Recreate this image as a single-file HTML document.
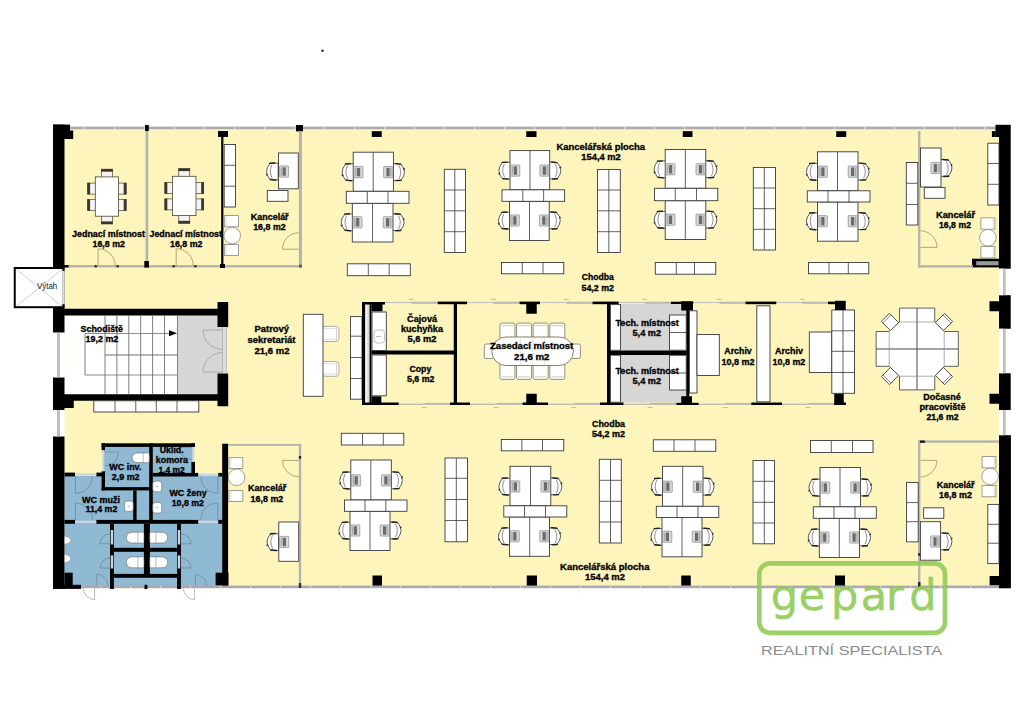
<!DOCTYPE html>
<html lang="cs"><head><meta charset="utf-8"><title>Půdorys kanceláří</title>
<style>
html,body{margin:0;padding:0;background:#fff;}
body{width:1024px;height:724px;overflow:hidden;}
svg{display:block;font-family:"Liberation Sans",sans-serif;}
</style></head><body>
<svg width="1024" height="724" viewBox="0 0 1024 724">
<rect x="64.50" y="130.00" width="934.90" height="456.00" fill="#fdf5bc" />
<rect x="64.50" y="315.00" width="113.00" height="80.00" fill="#fff" />
<rect x="177.50" y="315.00" width="45.00" height="80.00" fill="#d6d6d6" />
<rect x="222.50" y="327.00" width="4.00" height="46.00" fill="#e4e4e4" />
<rect x="64.50" y="476.00" width="158.00" height="110.00" fill="#90bad3" />
<rect x="104.00" y="446.00" width="89.00" height="31.00" fill="#90bad3" />
<rect x="620.50" y="304.00" width="66.00" height="98.50" fill="#d6d6d6" />
<rect x="70.00" y="126.60" width="926.00" height="2.90" fill="#a9a9ae" />
<rect x="70.00" y="129.50" width="926.00" height="0.80" fill="#f4f1e0" />
<rect x="84.00" y="127.20" width="1.20" height="1.70" fill="#e6e6ea" />
<rect x="114.00" y="127.20" width="1.20" height="1.70" fill="#e6e6ea" />
<rect x="144.00" y="127.20" width="1.20" height="1.70" fill="#e6e6ea" />
<rect x="174.00" y="127.20" width="1.20" height="1.70" fill="#e6e6ea" />
<rect x="204.00" y="127.20" width="1.20" height="1.70" fill="#e6e6ea" />
<rect x="234.00" y="127.20" width="1.20" height="1.70" fill="#e6e6ea" />
<rect x="264.00" y="127.20" width="1.20" height="1.70" fill="#e6e6ea" />
<rect x="294.00" y="127.20" width="1.20" height="1.70" fill="#e6e6ea" />
<rect x="324.00" y="127.20" width="1.20" height="1.70" fill="#e6e6ea" />
<rect x="354.00" y="127.20" width="1.20" height="1.70" fill="#e6e6ea" />
<rect x="384.00" y="127.20" width="1.20" height="1.70" fill="#e6e6ea" />
<rect x="414.00" y="127.20" width="1.20" height="1.70" fill="#e6e6ea" />
<rect x="444.00" y="127.20" width="1.20" height="1.70" fill="#e6e6ea" />
<rect x="474.00" y="127.20" width="1.20" height="1.70" fill="#e6e6ea" />
<rect x="504.00" y="127.20" width="1.20" height="1.70" fill="#e6e6ea" />
<rect x="534.00" y="127.20" width="1.20" height="1.70" fill="#e6e6ea" />
<rect x="564.00" y="127.20" width="1.20" height="1.70" fill="#e6e6ea" />
<rect x="594.00" y="127.20" width="1.20" height="1.70" fill="#e6e6ea" />
<rect x="624.00" y="127.20" width="1.20" height="1.70" fill="#e6e6ea" />
<rect x="654.00" y="127.20" width="1.20" height="1.70" fill="#e6e6ea" />
<rect x="684.00" y="127.20" width="1.20" height="1.70" fill="#e6e6ea" />
<rect x="714.00" y="127.20" width="1.20" height="1.70" fill="#e6e6ea" />
<rect x="744.00" y="127.20" width="1.20" height="1.70" fill="#e6e6ea" />
<rect x="774.00" y="127.20" width="1.20" height="1.70" fill="#e6e6ea" />
<rect x="804.00" y="127.20" width="1.20" height="1.70" fill="#e6e6ea" />
<rect x="834.00" y="127.20" width="1.20" height="1.70" fill="#e6e6ea" />
<rect x="864.00" y="127.20" width="1.20" height="1.70" fill="#e6e6ea" />
<rect x="894.00" y="127.20" width="1.20" height="1.70" fill="#e6e6ea" />
<rect x="924.00" y="127.20" width="1.20" height="1.70" fill="#e6e6ea" />
<rect x="954.00" y="127.20" width="1.20" height="1.70" fill="#e6e6ea" />
<rect x="984.00" y="127.20" width="1.20" height="1.70" fill="#e6e6ea" />
<rect x="81.00" y="585.60" width="919.00" height="2.60" fill="#a9a9ae" />
<rect x="100.00" y="586.20" width="1.20" height="1.40" fill="#e6e6ea" />
<rect x="130.00" y="586.20" width="1.20" height="1.40" fill="#e6e6ea" />
<rect x="160.00" y="586.20" width="1.20" height="1.40" fill="#e6e6ea" />
<rect x="190.00" y="586.20" width="1.20" height="1.40" fill="#e6e6ea" />
<rect x="220.00" y="586.20" width="1.20" height="1.40" fill="#e6e6ea" />
<rect x="250.00" y="586.20" width="1.20" height="1.40" fill="#e6e6ea" />
<rect x="280.00" y="586.20" width="1.20" height="1.40" fill="#e6e6ea" />
<rect x="310.00" y="586.20" width="1.20" height="1.40" fill="#e6e6ea" />
<rect x="340.00" y="586.20" width="1.20" height="1.40" fill="#e6e6ea" />
<rect x="370.00" y="586.20" width="1.20" height="1.40" fill="#e6e6ea" />
<rect x="400.00" y="586.20" width="1.20" height="1.40" fill="#e6e6ea" />
<rect x="430.00" y="586.20" width="1.20" height="1.40" fill="#e6e6ea" />
<rect x="460.00" y="586.20" width="1.20" height="1.40" fill="#e6e6ea" />
<rect x="490.00" y="586.20" width="1.20" height="1.40" fill="#e6e6ea" />
<rect x="520.00" y="586.20" width="1.20" height="1.40" fill="#e6e6ea" />
<rect x="550.00" y="586.20" width="1.20" height="1.40" fill="#e6e6ea" />
<rect x="580.00" y="586.20" width="1.20" height="1.40" fill="#e6e6ea" />
<rect x="610.00" y="586.20" width="1.20" height="1.40" fill="#e6e6ea" />
<rect x="640.00" y="586.20" width="1.20" height="1.40" fill="#e6e6ea" />
<rect x="670.00" y="586.20" width="1.20" height="1.40" fill="#e6e6ea" />
<rect x="700.00" y="586.20" width="1.20" height="1.40" fill="#e6e6ea" />
<rect x="730.00" y="586.20" width="1.20" height="1.40" fill="#e6e6ea" />
<rect x="760.00" y="586.20" width="1.20" height="1.40" fill="#e6e6ea" />
<rect x="790.00" y="586.20" width="1.20" height="1.40" fill="#e6e6ea" />
<rect x="820.00" y="586.20" width="1.20" height="1.40" fill="#e6e6ea" />
<rect x="850.00" y="586.20" width="1.20" height="1.40" fill="#e6e6ea" />
<rect x="880.00" y="586.20" width="1.20" height="1.40" fill="#e6e6ea" />
<rect x="910.00" y="586.20" width="1.20" height="1.40" fill="#e6e6ea" />
<rect x="940.00" y="586.20" width="1.20" height="1.40" fill="#e6e6ea" />
<rect x="970.00" y="586.20" width="1.20" height="1.40" fill="#e6e6ea" />
<rect x="53.00" y="124.60" width="11.50" height="142.40" fill="#000" />
<rect x="53.00" y="124.60" width="17.00" height="6.40" fill="#000" />
<rect x="63.80" y="130.50" width="9.40" height="8.50" fill="#000" />
<rect x="53.00" y="308.00" width="11.50" height="24.50" fill="#000" />
<rect x="53.00" y="377.50" width="11.50" height="32.50" fill="#000" />
<rect x="64.00" y="400.00" width="9.75" height="8.00" fill="#000" />
<rect x="53.00" y="436.50" width="11.50" height="152.25" fill="#000" />
<rect x="53.00" y="584.80" width="28.00" height="4.10" fill="#000" />
<rect x="64.50" y="572.70" width="8.20" height="12.30" fill="#000" />
<rect x="57.10" y="332.50" width="2.80" height="45.00" fill="#b4b4b4" />
<line x1="58.50" y1="332.50" x2="58.50" y2="377.50" stroke="#d0d0d0" stroke-width="0.5" />
<rect x="57.10" y="410.00" width="2.80" height="26.50" fill="#b4b4b4" />
<line x1="58.50" y1="410.00" x2="58.50" y2="436.50" stroke="#d0d0d0" stroke-width="0.5" />
<rect x="14.75" y="268.00" width="48.90" height="39.20" fill="#fff" stroke="#000" stroke-width="2" />
<line x1="16.00" y1="269.00" x2="62.50" y2="306.50" stroke="#9a9a9a" stroke-width="0.5" />
<line x1="16.00" y1="306.50" x2="62.50" y2="269.00" stroke="#9a9a9a" stroke-width="0.5" />
<rect x="62.60" y="269.00" width="2.00" height="37.60" fill="#fff" />
<line x1="63.90" y1="271.00" x2="63.90" y2="304.50" stroke="#b9b9b0" stroke-width="0.8" />
<rect x="62.40" y="268.50" width="2.20" height="2.30" fill="#000" />
<rect x="62.40" y="304.20" width="2.20" height="2.80" fill="#000" />
<rect x="999.00" y="124.80" width="11.70" height="143.90" fill="#000" />
<rect x="995.50" y="124.80" width="3.70" height="12.20" fill="#000" />
<rect x="991.90" y="131.10" width="3.80" height="5.90" fill="#000" />
<rect x="972.00" y="258.70" width="27.40" height="8.70" fill="#000" />
<rect x="976.20" y="261.20" width="22.40" height="4.10" fill="#9a9a9a" />
<rect x="999.00" y="295.20" width="11.70" height="33.55" fill="#000" />
<rect x="989.50" y="301.25" width="11.00" height="10.00" fill="#000" />
<rect x="999.00" y="373.25" width="11.70" height="36.75" fill="#000" />
<rect x="989.50" y="393.75" width="11.00" height="10.00" fill="#000" />
<rect x="999.00" y="435.20" width="11.90" height="153.10" fill="#000" />
<rect x="989.60" y="576.00" width="9.90" height="9.30" fill="#000" />
<rect x="999.20" y="268.70" width="4.00" height="26.50" fill="#fff" />
<rect x="1003.10" y="268.70" width="2.50" height="26.50" fill="#b4b4b4" />
<line x1="1004.40" y1="268.70" x2="1004.40" y2="295.20" stroke="#d0d0d0" stroke-width="0.5" />
<rect x="999.20" y="328.75" width="4.00" height="44.50" fill="#fff" />
<rect x="1003.10" y="328.75" width="2.50" height="44.50" fill="#b4b4b4" />
<line x1="1004.40" y1="328.75" x2="1004.40" y2="373.25" stroke="#d0d0d0" stroke-width="0.5" />
<rect x="999.20" y="410.00" width="4.00" height="25.20" fill="#fff" />
<rect x="1003.10" y="410.00" width="2.50" height="25.20" fill="#b4b4b4" />
<line x1="1004.40" y1="410.00" x2="1004.40" y2="435.20" stroke="#d0d0d0" stroke-width="0.5" />
<rect x="145.00" y="125.00" width="3.80" height="6.00" fill="#000" />
<rect x="296.00" y="125.00" width="7.00" height="6.40" fill="#000" />
<rect x="371.75" y="131.20" width="10.00" height="5.80" fill="#000" />
<rect x="526.25" y="131.20" width="10.25" height="5.80" fill="#000" />
<rect x="682.75" y="131.20" width="9.75" height="5.80" fill="#000" />
<rect x="836.25" y="131.20" width="10.00" height="5.80" fill="#000" />
<rect x="372.50" y="575.50" width="9.50" height="10.10" fill="#000" />
<rect x="526.75" y="575.50" width="10.25" height="10.10" fill="#000" />
<rect x="681.25" y="575.50" width="9.50" height="10.10" fill="#000" />
<rect x="835.00" y="575.50" width="10.00" height="10.10" fill="#000" />
<rect x="144.50" y="584.80" width="2.90" height="4.20" fill="#000" />
<rect x="145.60" y="131.00" width="2.60" height="135.50" fill="#aaa9a6" />
<line x1="146.90" y1="131.00" x2="146.90" y2="266.50" stroke="#d8d6cf" stroke-width="0.5" />
<rect x="218.00" y="131.00" width="10.00" height="6.00" fill="#000" />
<rect x="221.20" y="131.00" width="2.20" height="136.30" fill="#000" />
<rect x="64.50" y="265.10" width="236.50" height="2.30" fill="#b4b1a4" />
<rect x="64.00" y="265.00" width="4.60" height="2.50" fill="#000" />
<rect x="144.30" y="261.00" width="4.60" height="6.60" fill="#000" />
<rect x="220.00" y="264.00" width="5.00" height="4.00" fill="#000" />
<rect x="94.60" y="265.10" width="2.20" height="2.30" fill="#222" />
<rect x="116.60" y="265.10" width="2.20" height="2.30" fill="#222" />
<rect x="172.60" y="265.10" width="2.20" height="2.30" fill="#222" />
<rect x="194.30" y="265.10" width="2.20" height="2.30" fill="#222" />
<rect x="298.90" y="131.00" width="3.00" height="136.40" fill="#b5b3a8" />
<rect x="299.20" y="264.60" width="2.70" height="2.90" fill="#555" />
<path d="M98.10,266.00 L98.10,248.80 A17.2,17.2 0 0 1 115.30,266.00" fill="none" stroke="#9a9468" stroke-width="0.8" />
<path d="M176.20,266.00 L176.20,248.80 A17.2,17.2 0 0 1 193.40,266.00" fill="none" stroke="#9a9468" stroke-width="0.8" />
<path d="M298.90,249.20 L282.40,249.20 A16.5,16.5 0 0 1 298.90,232.70" fill="none" stroke="#9a9468" stroke-width="0.8" />
<rect x="101.40" y="169.30" width="11.00" height="8.60" fill="#f4f4f4" stroke="#4a4630" stroke-width="0.7" />
<rect x="101.10" y="168.90" width="11.60" height="2.80" fill="#3a372a" />
<rect x="101.40" y="215.20" width="11.00" height="8.60" fill="#f4f4f4" stroke="#4a4630" stroke-width="0.7" />
<rect x="101.10" y="221.40" width="11.60" height="2.80" fill="#3a372a" />
<rect x="87.70" y="183.10" width="8.60" height="11.00" fill="#f4f4f4" stroke="#4a4630" stroke-width="0.7" />
<rect x="87.30" y="182.80" width="2.80" height="11.60" fill="#3a372a" />
<rect x="117.50" y="183.10" width="8.60" height="11.00" fill="#f4f4f4" stroke="#4a4630" stroke-width="0.7" />
<rect x="123.70" y="182.80" width="2.80" height="11.60" fill="#3a372a" />
<rect x="87.70" y="199.50" width="8.60" height="11.00" fill="#f4f4f4" stroke="#4a4630" stroke-width="0.7" />
<rect x="87.30" y="199.20" width="2.80" height="11.60" fill="#3a372a" />
<rect x="117.50" y="199.50" width="8.60" height="11.00" fill="#f4f4f4" stroke="#4a4630" stroke-width="0.7" />
<rect x="123.70" y="199.20" width="2.80" height="11.60" fill="#3a372a" />
<rect x="95.30" y="176.90" width="23.20" height="39.30" fill="#fff" stroke="#4a4630" stroke-width="0.8" />
<rect x="178.75" y="168.70" width="11.00" height="8.60" fill="#f4f4f4" stroke="#4a4630" stroke-width="0.7" />
<rect x="178.45" y="168.30" width="11.60" height="2.80" fill="#3a372a" />
<rect x="178.75" y="214.60" width="11.00" height="8.60" fill="#f4f4f4" stroke="#4a4630" stroke-width="0.7" />
<rect x="178.45" y="220.80" width="11.60" height="2.80" fill="#3a372a" />
<rect x="164.90" y="182.50" width="8.60" height="11.00" fill="#f4f4f4" stroke="#4a4630" stroke-width="0.7" />
<rect x="164.50" y="182.20" width="2.80" height="11.60" fill="#3a372a" />
<rect x="195.00" y="182.50" width="8.60" height="11.00" fill="#f4f4f4" stroke="#4a4630" stroke-width="0.7" />
<rect x="201.20" y="182.20" width="2.80" height="11.60" fill="#3a372a" />
<rect x="164.90" y="198.90" width="8.60" height="11.00" fill="#f4f4f4" stroke="#4a4630" stroke-width="0.7" />
<rect x="164.50" y="198.60" width="2.80" height="11.60" fill="#3a372a" />
<rect x="195.00" y="198.90" width="8.60" height="11.00" fill="#f4f4f4" stroke="#4a4630" stroke-width="0.7" />
<rect x="201.20" y="198.60" width="2.80" height="11.60" fill="#3a372a" />
<rect x="172.50" y="176.30" width="23.50" height="39.30" fill="#fff" stroke="#4a4630" stroke-width="0.8" />
<rect x="224.20" y="144.50" width="11.30" height="62.50" fill="#fff" stroke="#3a3a3a" stroke-width="0.9" />
<line x1="224.20" y1="165.30" x2="235.50" y2="165.30" stroke="#3a3a3a" stroke-width="0.8" />
<line x1="224.20" y1="186.20" x2="235.50" y2="186.20" stroke="#3a3a3a" stroke-width="0.8" />
<rect x="224.30" y="215.60" width="14.10" height="11.20" fill="#fff" stroke="#86867c" stroke-width="0.8" />
<path d="M226.50,216.20 Q224.70,221.20 226.50,226.20" fill="none" stroke="#c4c4c4" stroke-width="0.6" />
<rect x="224.30" y="244.40" width="14.10" height="11.20" fill="#fff" stroke="#86867c" stroke-width="0.8" />
<path d="M226.50,245.00 Q224.70,250.00 226.50,255.00" fill="none" stroke="#c4c4c4" stroke-width="0.6" />
<circle cx="232.20" cy="235.60" r="8.3" fill="#fff" stroke="#86867c" stroke-width="0.8"/>
<g transform="translate(273.00,171.50) rotate(0) translate(4.6,0) scale(0.93) translate(-4.6,0)">
<path d="M5.2,-9 L-3.4,-8.7 Q-11.2,0 -3.4,8.7 L5.2,9.2 Z" fill="#fff" stroke="#3a3a3a" stroke-width="0.9" stroke-linejoin="round"/>
<path d="M-1.4,-7.2 Q-5.2,0 -1.2,7.2" fill="none" stroke="#555" stroke-width="0.7"/>
<path d="M-3.8,-8.8 L1.5,-9.1" fill="none" stroke="#222" stroke-width="1.5" stroke-linecap="round"/>
<path d="M-3.2,8.6 L2.5,9.2" fill="none" stroke="#222" stroke-width="1.5" stroke-linecap="round"/>
<circle cx="-6.9" cy="3.4" r="1.0" fill="#333"/>
</g>
<rect x="278.50" y="153.00" width="19.80" height="35.80" fill="#fff" stroke="#3a3a3a" stroke-width="0.9" />
<g transform="translate(284.00,171.50) rotate(0)">
<rect x="-4.6" y="-5.6" width="9.2" height="11.2" rx="0.8" fill="#d9d9d9" stroke="#777" stroke-width="0.6"/>
<rect x="-1.4" y="-4.2" width="3.2" height="8.4" fill="#6a6a6a"/>
<rect x="-3.4" y="-4.2" width="1.4" height="8.4" fill="#aaa"/>
</g>
<rect x="267.30" y="190.50" width="20.70" height="10.80" fill="#fff" stroke="#3a3a3a" stroke-width="0.9" />
<g transform="translate(348.60,172.14) rotate(0) translate(4.6,0) scale(0.93) translate(-4.6,0)">
<path d="M5.2,-9 L-3.4,-8.7 Q-11.2,0 -3.4,8.7 L5.2,9.2 Z" fill="#fff" stroke="#3a3a3a" stroke-width="0.9" stroke-linejoin="round"/>
<path d="M-1.4,-7.2 Q-5.2,0 -1.2,7.2" fill="none" stroke="#555" stroke-width="0.7"/>
<path d="M-3.8,-8.8 L1.5,-9.1" fill="none" stroke="#222" stroke-width="1.5" stroke-linecap="round"/>
<path d="M-3.2,8.6 L2.5,9.2" fill="none" stroke="#222" stroke-width="1.5" stroke-linecap="round"/>
<circle cx="-6.9" cy="3.4" r="1.0" fill="#333"/>
</g>
<g transform="translate(398.00,172.14) rotate(180) translate(4.6,0) scale(0.93) translate(-4.6,0)">
<path d="M5.2,-9 L-3.4,-8.7 Q-11.2,0 -3.4,8.7 L5.2,9.2 Z" fill="#fff" stroke="#3a3a3a" stroke-width="0.9" stroke-linejoin="round"/>
<path d="M-1.4,-7.2 Q-5.2,0 -1.2,7.2" fill="none" stroke="#555" stroke-width="0.7"/>
<path d="M-3.8,-8.8 L1.5,-9.1" fill="none" stroke="#222" stroke-width="1.5" stroke-linecap="round"/>
<path d="M-3.2,8.6 L2.5,9.2" fill="none" stroke="#222" stroke-width="1.5" stroke-linecap="round"/>
<circle cx="-6.9" cy="3.4" r="1.0" fill="#333"/>
</g>
<g transform="translate(347.70,222.26) rotate(0) translate(4.6,0) scale(0.93) translate(-4.6,0)">
<path d="M5.2,-9 L-3.4,-8.7 Q-11.2,0 -3.4,8.7 L5.2,9.2 Z" fill="#fff" stroke="#3a3a3a" stroke-width="0.9" stroke-linejoin="round"/>
<path d="M-1.4,-7.2 Q-5.2,0 -1.2,7.2" fill="none" stroke="#555" stroke-width="0.7"/>
<path d="M-3.8,-8.8 L1.5,-9.1" fill="none" stroke="#222" stroke-width="1.5" stroke-linecap="round"/>
<path d="M-3.2,8.6 L2.5,9.2" fill="none" stroke="#222" stroke-width="1.5" stroke-linecap="round"/>
<circle cx="-6.9" cy="3.4" r="1.0" fill="#333"/>
</g>
<g transform="translate(397.60,222.26) rotate(180) translate(4.6,0) scale(0.93) translate(-4.6,0)">
<path d="M5.2,-9 L-3.4,-8.7 Q-11.2,0 -3.4,8.7 L5.2,9.2 Z" fill="#fff" stroke="#3a3a3a" stroke-width="0.9" stroke-linejoin="round"/>
<path d="M-1.4,-7.2 Q-5.2,0 -1.2,7.2" fill="none" stroke="#555" stroke-width="0.7"/>
<path d="M-3.8,-8.8 L1.5,-9.1" fill="none" stroke="#222" stroke-width="1.5" stroke-linecap="round"/>
<path d="M-3.2,8.6 L2.5,9.2" fill="none" stroke="#222" stroke-width="1.5" stroke-linecap="round"/>
<circle cx="-6.9" cy="3.4" r="1.0" fill="#333"/>
</g>
<rect x="353.20" y="152.20" width="40.20" height="39.10" fill="#fff" stroke="#3a3a3a" stroke-width="0.9" />
<line x1="373.20" y1="152.20" x2="373.20" y2="191.30" stroke="#3a3a3a" stroke-width="0.8" />
<rect x="352.30" y="203.30" width="40.70" height="38.70" fill="#fff" stroke="#3a3a3a" stroke-width="0.9" />
<line x1="372.50" y1="203.30" x2="372.50" y2="242.00" stroke="#3a3a3a" stroke-width="0.8" />
<rect x="346.30" y="191.30" width="62.70" height="12.00" fill="#fff" stroke="#3a3a3a" stroke-width="0.9" />
<line x1="367.30" y1="191.30" x2="367.30" y2="203.30" stroke="#3a3a3a" stroke-width="0.8" />
<line x1="388.00" y1="191.30" x2="388.00" y2="203.30" stroke="#3a3a3a" stroke-width="0.8" />
<g transform="translate(358.40,172.14) rotate(0)">
<rect x="-4.6" y="-5.6" width="9.2" height="11.2" rx="0.8" fill="#d9d9d9" stroke="#777" stroke-width="0.6"/>
<rect x="-1.4" y="-4.2" width="3.2" height="8.4" fill="#6a6a6a"/>
<rect x="-3.4" y="-4.2" width="1.4" height="8.4" fill="#aaa"/>
</g>
<g transform="translate(388.20,172.14) rotate(180)">
<rect x="-4.6" y="-5.6" width="9.2" height="11.2" rx="0.8" fill="#d9d9d9" stroke="#777" stroke-width="0.6"/>
<rect x="-1.4" y="-4.2" width="3.2" height="8.4" fill="#6a6a6a"/>
<rect x="-3.4" y="-4.2" width="1.4" height="8.4" fill="#aaa"/>
</g>
<g transform="translate(357.50,222.26) rotate(0)">
<rect x="-4.6" y="-5.6" width="9.2" height="11.2" rx="0.8" fill="#d9d9d9" stroke="#777" stroke-width="0.6"/>
<rect x="-1.4" y="-4.2" width="3.2" height="8.4" fill="#6a6a6a"/>
<rect x="-3.4" y="-4.2" width="1.4" height="8.4" fill="#aaa"/>
</g>
<g transform="translate(387.80,222.26) rotate(180)">
<rect x="-4.6" y="-5.6" width="9.2" height="11.2" rx="0.8" fill="#d9d9d9" stroke="#777" stroke-width="0.6"/>
<rect x="-1.4" y="-4.2" width="3.2" height="8.4" fill="#6a6a6a"/>
<rect x="-3.4" y="-4.2" width="1.4" height="8.4" fill="#aaa"/>
</g>
<g transform="translate(505.40,170.59) rotate(0) translate(4.6,0) scale(0.93) translate(-4.6,0)">
<path d="M5.2,-9 L-3.4,-8.7 Q-11.2,0 -3.4,8.7 L5.2,9.2 Z" fill="#fff" stroke="#3a3a3a" stroke-width="0.9" stroke-linejoin="round"/>
<path d="M-1.4,-7.2 Q-5.2,0 -1.2,7.2" fill="none" stroke="#555" stroke-width="0.7"/>
<path d="M-3.8,-8.8 L1.5,-9.1" fill="none" stroke="#222" stroke-width="1.5" stroke-linecap="round"/>
<path d="M-3.2,8.6 L2.5,9.2" fill="none" stroke="#222" stroke-width="1.5" stroke-linecap="round"/>
<circle cx="-6.9" cy="3.4" r="1.0" fill="#333"/>
</g>
<g transform="translate(554.30,170.59) rotate(180) translate(4.6,0) scale(0.93) translate(-4.6,0)">
<path d="M5.2,-9 L-3.4,-8.7 Q-11.2,0 -3.4,8.7 L5.2,9.2 Z" fill="#fff" stroke="#3a3a3a" stroke-width="0.9" stroke-linejoin="round"/>
<path d="M-1.4,-7.2 Q-5.2,0 -1.2,7.2" fill="none" stroke="#555" stroke-width="0.7"/>
<path d="M-3.8,-8.8 L1.5,-9.1" fill="none" stroke="#222" stroke-width="1.5" stroke-linecap="round"/>
<path d="M-3.2,8.6 L2.5,9.2" fill="none" stroke="#222" stroke-width="1.5" stroke-linecap="round"/>
<circle cx="-6.9" cy="3.4" r="1.0" fill="#333"/>
</g>
<g transform="translate(504.90,220.51) rotate(0) translate(4.6,0) scale(0.93) translate(-4.6,0)">
<path d="M5.2,-9 L-3.4,-8.7 Q-11.2,0 -3.4,8.7 L5.2,9.2 Z" fill="#fff" stroke="#3a3a3a" stroke-width="0.9" stroke-linejoin="round"/>
<path d="M-1.4,-7.2 Q-5.2,0 -1.2,7.2" fill="none" stroke="#555" stroke-width="0.7"/>
<path d="M-3.8,-8.8 L1.5,-9.1" fill="none" stroke="#222" stroke-width="1.5" stroke-linecap="round"/>
<path d="M-3.2,8.6 L2.5,9.2" fill="none" stroke="#222" stroke-width="1.5" stroke-linecap="round"/>
<circle cx="-6.9" cy="3.4" r="1.0" fill="#333"/>
</g>
<g transform="translate(553.80,220.51) rotate(180) translate(4.6,0) scale(0.93) translate(-4.6,0)">
<path d="M5.2,-9 L-3.4,-8.7 Q-11.2,0 -3.4,8.7 L5.2,9.2 Z" fill="#fff" stroke="#3a3a3a" stroke-width="0.9" stroke-linejoin="round"/>
<path d="M-1.4,-7.2 Q-5.2,0 -1.2,7.2" fill="none" stroke="#555" stroke-width="0.7"/>
<path d="M-3.8,-8.8 L1.5,-9.1" fill="none" stroke="#222" stroke-width="1.5" stroke-linecap="round"/>
<path d="M-3.2,8.6 L2.5,9.2" fill="none" stroke="#222" stroke-width="1.5" stroke-linecap="round"/>
<circle cx="-6.9" cy="3.4" r="1.0" fill="#333"/>
</g>
<rect x="510.00" y="150.60" width="39.70" height="39.20" fill="#fff" stroke="#3a3a3a" stroke-width="0.9" />
<line x1="530.00" y1="150.60" x2="530.00" y2="189.80" stroke="#3a3a3a" stroke-width="0.8" />
<rect x="509.50" y="201.30" width="39.70" height="39.20" fill="#fff" stroke="#3a3a3a" stroke-width="0.9" />
<line x1="529.50" y1="201.30" x2="529.50" y2="240.50" stroke="#3a3a3a" stroke-width="0.8" />
<rect x="502.00" y="189.80" width="62.60" height="11.50" fill="#fff" stroke="#3a3a3a" stroke-width="0.9" />
<line x1="522.80" y1="189.80" x2="522.80" y2="201.30" stroke="#3a3a3a" stroke-width="0.8" />
<line x1="543.60" y1="189.80" x2="543.60" y2="201.30" stroke="#3a3a3a" stroke-width="0.8" />
<g transform="translate(515.20,170.59) rotate(0)">
<rect x="-4.6" y="-5.6" width="9.2" height="11.2" rx="0.8" fill="#d9d9d9" stroke="#777" stroke-width="0.6"/>
<rect x="-1.4" y="-4.2" width="3.2" height="8.4" fill="#6a6a6a"/>
<rect x="-3.4" y="-4.2" width="1.4" height="8.4" fill="#aaa"/>
</g>
<g transform="translate(544.50,170.59) rotate(180)">
<rect x="-4.6" y="-5.6" width="9.2" height="11.2" rx="0.8" fill="#d9d9d9" stroke="#777" stroke-width="0.6"/>
<rect x="-1.4" y="-4.2" width="3.2" height="8.4" fill="#6a6a6a"/>
<rect x="-3.4" y="-4.2" width="1.4" height="8.4" fill="#aaa"/>
</g>
<g transform="translate(514.70,220.51) rotate(0)">
<rect x="-4.6" y="-5.6" width="9.2" height="11.2" rx="0.8" fill="#d9d9d9" stroke="#777" stroke-width="0.6"/>
<rect x="-1.4" y="-4.2" width="3.2" height="8.4" fill="#6a6a6a"/>
<rect x="-3.4" y="-4.2" width="1.4" height="8.4" fill="#aaa"/>
</g>
<g transform="translate(544.00,220.51) rotate(180)">
<rect x="-4.6" y="-5.6" width="9.2" height="11.2" rx="0.8" fill="#d9d9d9" stroke="#777" stroke-width="0.6"/>
<rect x="-1.4" y="-4.2" width="3.2" height="8.4" fill="#6a6a6a"/>
<rect x="-3.4" y="-4.2" width="1.4" height="8.4" fill="#aaa"/>
</g>
<g transform="translate(660.60,169.29) rotate(0) translate(4.6,0) scale(0.93) translate(-4.6,0)">
<path d="M5.2,-9 L-3.4,-8.7 Q-11.2,0 -3.4,8.7 L5.2,9.2 Z" fill="#fff" stroke="#3a3a3a" stroke-width="0.9" stroke-linejoin="round"/>
<path d="M-1.4,-7.2 Q-5.2,0 -1.2,7.2" fill="none" stroke="#555" stroke-width="0.7"/>
<path d="M-3.8,-8.8 L1.5,-9.1" fill="none" stroke="#222" stroke-width="1.5" stroke-linecap="round"/>
<path d="M-3.2,8.6 L2.5,9.2" fill="none" stroke="#222" stroke-width="1.5" stroke-linecap="round"/>
<circle cx="-6.9" cy="3.4" r="1.0" fill="#333"/>
</g>
<g transform="translate(710.40,169.29) rotate(180) translate(4.6,0) scale(0.93) translate(-4.6,0)">
<path d="M5.2,-9 L-3.4,-8.7 Q-11.2,0 -3.4,8.7 L5.2,9.2 Z" fill="#fff" stroke="#3a3a3a" stroke-width="0.9" stroke-linejoin="round"/>
<path d="M-1.4,-7.2 Q-5.2,0 -1.2,7.2" fill="none" stroke="#555" stroke-width="0.7"/>
<path d="M-3.8,-8.8 L1.5,-9.1" fill="none" stroke="#222" stroke-width="1.5" stroke-linecap="round"/>
<path d="M-3.2,8.6 L2.5,9.2" fill="none" stroke="#222" stroke-width="1.5" stroke-linecap="round"/>
<circle cx="-6.9" cy="3.4" r="1.0" fill="#333"/>
</g>
<g transform="translate(660.60,219.71) rotate(0) translate(4.6,0) scale(0.93) translate(-4.6,0)">
<path d="M5.2,-9 L-3.4,-8.7 Q-11.2,0 -3.4,8.7 L5.2,9.2 Z" fill="#fff" stroke="#3a3a3a" stroke-width="0.9" stroke-linejoin="round"/>
<path d="M-1.4,-7.2 Q-5.2,0 -1.2,7.2" fill="none" stroke="#555" stroke-width="0.7"/>
<path d="M-3.8,-8.8 L1.5,-9.1" fill="none" stroke="#222" stroke-width="1.5" stroke-linecap="round"/>
<path d="M-3.2,8.6 L2.5,9.2" fill="none" stroke="#222" stroke-width="1.5" stroke-linecap="round"/>
<circle cx="-6.9" cy="3.4" r="1.0" fill="#333"/>
</g>
<g transform="translate(710.40,219.71) rotate(180) translate(4.6,0) scale(0.93) translate(-4.6,0)">
<path d="M5.2,-9 L-3.4,-8.7 Q-11.2,0 -3.4,8.7 L5.2,9.2 Z" fill="#fff" stroke="#3a3a3a" stroke-width="0.9" stroke-linejoin="round"/>
<path d="M-1.4,-7.2 Q-5.2,0 -1.2,7.2" fill="none" stroke="#555" stroke-width="0.7"/>
<path d="M-3.8,-8.8 L1.5,-9.1" fill="none" stroke="#222" stroke-width="1.5" stroke-linecap="round"/>
<path d="M-3.2,8.6 L2.5,9.2" fill="none" stroke="#222" stroke-width="1.5" stroke-linecap="round"/>
<circle cx="-6.9" cy="3.4" r="1.0" fill="#333"/>
</g>
<rect x="665.20" y="149.50" width="40.60" height="38.80" fill="#fff" stroke="#3a3a3a" stroke-width="0.9" />
<line x1="685.30" y1="149.50" x2="685.30" y2="188.30" stroke="#3a3a3a" stroke-width="0.8" />
<rect x="665.20" y="200.70" width="40.60" height="38.80" fill="#fff" stroke="#3a3a3a" stroke-width="0.9" />
<line x1="685.30" y1="200.70" x2="685.30" y2="239.50" stroke="#3a3a3a" stroke-width="0.8" />
<rect x="654.50" y="188.30" width="63.30" height="12.40" fill="#fff" stroke="#3a3a3a" stroke-width="0.9" />
<line x1="675.30" y1="188.30" x2="675.30" y2="200.70" stroke="#3a3a3a" stroke-width="0.8" />
<line x1="696.50" y1="188.30" x2="696.50" y2="200.70" stroke="#3a3a3a" stroke-width="0.8" />
<g transform="translate(670.40,169.29) rotate(0)">
<rect x="-4.6" y="-5.6" width="9.2" height="11.2" rx="0.8" fill="#d9d9d9" stroke="#777" stroke-width="0.6"/>
<rect x="-1.4" y="-4.2" width="3.2" height="8.4" fill="#6a6a6a"/>
<rect x="-3.4" y="-4.2" width="1.4" height="8.4" fill="#aaa"/>
</g>
<g transform="translate(700.60,169.29) rotate(180)">
<rect x="-4.6" y="-5.6" width="9.2" height="11.2" rx="0.8" fill="#d9d9d9" stroke="#777" stroke-width="0.6"/>
<rect x="-1.4" y="-4.2" width="3.2" height="8.4" fill="#6a6a6a"/>
<rect x="-3.4" y="-4.2" width="1.4" height="8.4" fill="#aaa"/>
</g>
<g transform="translate(670.40,219.71) rotate(0)">
<rect x="-4.6" y="-5.6" width="9.2" height="11.2" rx="0.8" fill="#d9d9d9" stroke="#777" stroke-width="0.6"/>
<rect x="-1.4" y="-4.2" width="3.2" height="8.4" fill="#6a6a6a"/>
<rect x="-3.4" y="-4.2" width="1.4" height="8.4" fill="#aaa"/>
</g>
<g transform="translate(700.60,219.71) rotate(180)">
<rect x="-4.6" y="-5.6" width="9.2" height="11.2" rx="0.8" fill="#d9d9d9" stroke="#777" stroke-width="0.6"/>
<rect x="-1.4" y="-4.2" width="3.2" height="8.4" fill="#6a6a6a"/>
<rect x="-3.4" y="-4.2" width="1.4" height="8.4" fill="#aaa"/>
</g>
<g transform="translate(812.90,171.69) rotate(0) translate(4.6,0) scale(0.93) translate(-4.6,0)">
<path d="M5.2,-9 L-3.4,-8.7 Q-11.2,0 -3.4,8.7 L5.2,9.2 Z" fill="#fff" stroke="#3a3a3a" stroke-width="0.9" stroke-linejoin="round"/>
<path d="M-1.4,-7.2 Q-5.2,0 -1.2,7.2" fill="none" stroke="#555" stroke-width="0.7"/>
<path d="M-3.8,-8.8 L1.5,-9.1" fill="none" stroke="#222" stroke-width="1.5" stroke-linecap="round"/>
<path d="M-3.2,8.6 L2.5,9.2" fill="none" stroke="#222" stroke-width="1.5" stroke-linecap="round"/>
<circle cx="-6.9" cy="3.4" r="1.0" fill="#333"/>
</g>
<g transform="translate(862.60,171.69) rotate(180) translate(4.6,0) scale(0.93) translate(-4.6,0)">
<path d="M5.2,-9 L-3.4,-8.7 Q-11.2,0 -3.4,8.7 L5.2,9.2 Z" fill="#fff" stroke="#3a3a3a" stroke-width="0.9" stroke-linejoin="round"/>
<path d="M-1.4,-7.2 Q-5.2,0 -1.2,7.2" fill="none" stroke="#555" stroke-width="0.7"/>
<path d="M-3.8,-8.8 L1.5,-9.1" fill="none" stroke="#222" stroke-width="1.5" stroke-linecap="round"/>
<path d="M-3.2,8.6 L2.5,9.2" fill="none" stroke="#222" stroke-width="1.5" stroke-linecap="round"/>
<circle cx="-6.9" cy="3.4" r="1.0" fill="#333"/>
</g>
<g transform="translate(812.90,221.21) rotate(0) translate(4.6,0) scale(0.93) translate(-4.6,0)">
<path d="M5.2,-9 L-3.4,-8.7 Q-11.2,0 -3.4,8.7 L5.2,9.2 Z" fill="#fff" stroke="#3a3a3a" stroke-width="0.9" stroke-linejoin="round"/>
<path d="M-1.4,-7.2 Q-5.2,0 -1.2,7.2" fill="none" stroke="#555" stroke-width="0.7"/>
<path d="M-3.8,-8.8 L1.5,-9.1" fill="none" stroke="#222" stroke-width="1.5" stroke-linecap="round"/>
<path d="M-3.2,8.6 L2.5,9.2" fill="none" stroke="#222" stroke-width="1.5" stroke-linecap="round"/>
<circle cx="-6.9" cy="3.4" r="1.0" fill="#333"/>
</g>
<g transform="translate(862.60,221.21) rotate(180) translate(4.6,0) scale(0.93) translate(-4.6,0)">
<path d="M5.2,-9 L-3.4,-8.7 Q-11.2,0 -3.4,8.7 L5.2,9.2 Z" fill="#fff" stroke="#3a3a3a" stroke-width="0.9" stroke-linejoin="round"/>
<path d="M-1.4,-7.2 Q-5.2,0 -1.2,7.2" fill="none" stroke="#555" stroke-width="0.7"/>
<path d="M-3.8,-8.8 L1.5,-9.1" fill="none" stroke="#222" stroke-width="1.5" stroke-linecap="round"/>
<path d="M-3.2,8.6 L2.5,9.2" fill="none" stroke="#222" stroke-width="1.5" stroke-linecap="round"/>
<circle cx="-6.9" cy="3.4" r="1.0" fill="#333"/>
</g>
<rect x="817.50" y="151.80" width="40.50" height="39.00" fill="#fff" stroke="#3a3a3a" stroke-width="0.9" />
<line x1="837.50" y1="151.80" x2="837.50" y2="190.80" stroke="#3a3a3a" stroke-width="0.8" />
<rect x="817.50" y="202.00" width="40.50" height="39.20" fill="#fff" stroke="#3a3a3a" stroke-width="0.9" />
<line x1="837.50" y1="202.00" x2="837.50" y2="241.20" stroke="#3a3a3a" stroke-width="0.8" />
<rect x="807.30" y="190.80" width="62.70" height="11.20" fill="#fff" stroke="#3a3a3a" stroke-width="0.9" />
<line x1="828.00" y1="190.80" x2="828.00" y2="202.00" stroke="#3a3a3a" stroke-width="0.8" />
<line x1="849.00" y1="190.80" x2="849.00" y2="202.00" stroke="#3a3a3a" stroke-width="0.8" />
<g transform="translate(822.70,171.69) rotate(0)">
<rect x="-4.6" y="-5.6" width="9.2" height="11.2" rx="0.8" fill="#d9d9d9" stroke="#777" stroke-width="0.6"/>
<rect x="-1.4" y="-4.2" width="3.2" height="8.4" fill="#6a6a6a"/>
<rect x="-3.4" y="-4.2" width="1.4" height="8.4" fill="#aaa"/>
</g>
<g transform="translate(852.80,171.69) rotate(180)">
<rect x="-4.6" y="-5.6" width="9.2" height="11.2" rx="0.8" fill="#d9d9d9" stroke="#777" stroke-width="0.6"/>
<rect x="-1.4" y="-4.2" width="3.2" height="8.4" fill="#6a6a6a"/>
<rect x="-3.4" y="-4.2" width="1.4" height="8.4" fill="#aaa"/>
</g>
<g transform="translate(822.70,221.21) rotate(0)">
<rect x="-4.6" y="-5.6" width="9.2" height="11.2" rx="0.8" fill="#d9d9d9" stroke="#777" stroke-width="0.6"/>
<rect x="-1.4" y="-4.2" width="3.2" height="8.4" fill="#6a6a6a"/>
<rect x="-3.4" y="-4.2" width="1.4" height="8.4" fill="#aaa"/>
</g>
<g transform="translate(852.80,221.21) rotate(180)">
<rect x="-4.6" y="-5.6" width="9.2" height="11.2" rx="0.8" fill="#d9d9d9" stroke="#777" stroke-width="0.6"/>
<rect x="-1.4" y="-4.2" width="3.2" height="8.4" fill="#6a6a6a"/>
<rect x="-3.4" y="-4.2" width="1.4" height="8.4" fill="#aaa"/>
</g>
<rect x="444.30" y="169.30" width="21.20" height="83.20" fill="#fff" stroke="#3a3a3a" stroke-width="0.9" />
<line x1="454.80" y1="169.30" x2="454.80" y2="252.50" stroke="#3a3a3a" stroke-width="0.8" />
<line x1="444.30" y1="190.00" x2="465.50" y2="190.00" stroke="#3a3a3a" stroke-width="0.8" />
<line x1="444.30" y1="210.80" x2="465.50" y2="210.80" stroke="#3a3a3a" stroke-width="0.8" />
<line x1="444.30" y1="231.70" x2="465.50" y2="231.70" stroke="#3a3a3a" stroke-width="0.8" />
<rect x="597.50" y="169.50" width="22.80" height="83.00" fill="#fff" stroke="#3a3a3a" stroke-width="0.9" />
<line x1="608.80" y1="169.50" x2="608.80" y2="252.50" stroke="#3a3a3a" stroke-width="0.8" />
<line x1="597.50" y1="190.00" x2="620.30" y2="190.00" stroke="#3a3a3a" stroke-width="0.8" />
<line x1="597.50" y1="210.80" x2="620.30" y2="210.80" stroke="#3a3a3a" stroke-width="0.8" />
<line x1="597.50" y1="231.70" x2="620.30" y2="231.70" stroke="#3a3a3a" stroke-width="0.8" />
<rect x="753.30" y="167.50" width="22.20" height="82.50" fill="#fff" stroke="#3a3a3a" stroke-width="0.9" />
<line x1="764.30" y1="167.50" x2="764.30" y2="250.00" stroke="#3a3a3a" stroke-width="0.8" />
<line x1="753.30" y1="188.00" x2="775.50" y2="188.00" stroke="#3a3a3a" stroke-width="0.8" />
<line x1="753.30" y1="208.70" x2="775.50" y2="208.70" stroke="#3a3a3a" stroke-width="0.8" />
<line x1="753.30" y1="229.30" x2="775.50" y2="229.30" stroke="#3a3a3a" stroke-width="0.8" />
<rect x="347.30" y="263.80" width="63.00" height="11.90" fill="#fff" stroke="#3a3a3a" stroke-width="0.9" />
<line x1="368.30" y1="263.80" x2="368.30" y2="275.70" stroke="#3a3a3a" stroke-width="0.8" />
<line x1="389.20" y1="263.80" x2="389.20" y2="275.70" stroke="#3a3a3a" stroke-width="0.8" />
<rect x="501.50" y="262.50" width="62.30" height="11.30" fill="#fff" stroke="#3a3a3a" stroke-width="0.9" />
<line x1="522.30" y1="262.50" x2="522.30" y2="273.80" stroke="#3a3a3a" stroke-width="0.8" />
<line x1="543.00" y1="262.50" x2="543.00" y2="273.80" stroke="#3a3a3a" stroke-width="0.8" />
<rect x="655.30" y="262.50" width="60.50" height="11.70" fill="#fff" stroke="#3a3a3a" stroke-width="0.9" />
<line x1="676.30" y1="262.50" x2="676.30" y2="274.20" stroke="#3a3a3a" stroke-width="0.8" />
<line x1="694.50" y1="262.50" x2="694.50" y2="274.20" stroke="#3a3a3a" stroke-width="0.8" />
<rect x="808.50" y="262.50" width="60.30" height="11.30" fill="#fff" stroke="#3a3a3a" stroke-width="0.9" />
<line x1="829.00" y1="262.50" x2="829.00" y2="273.80" stroke="#3a3a3a" stroke-width="0.8" />
<line x1="848.30" y1="262.50" x2="848.30" y2="273.80" stroke="#3a3a3a" stroke-width="0.8" />
<rect x="918.10" y="131.00" width="2.30" height="136.40" fill="#b5b3a8" />
<rect x="918.10" y="265.20" width="54.90" height="2.30" fill="#b5b3a8" />
<rect x="906.30" y="162.50" width="11.50" height="62.50" fill="#fff" stroke="#3a3a3a" stroke-width="0.9" />
<line x1="906.30" y1="183.30" x2="917.80" y2="183.30" stroke="#3a3a3a" stroke-width="0.8" />
<line x1="906.30" y1="204.50" x2="917.80" y2="204.50" stroke="#3a3a3a" stroke-width="0.8" />
<g transform="translate(945.50,168.00) rotate(180) translate(4.6,0) scale(0.93) translate(-4.6,0)">
<path d="M5.2,-9 L-3.4,-8.7 Q-11.2,0 -3.4,8.7 L5.2,9.2 Z" fill="#fff" stroke="#3a3a3a" stroke-width="0.9" stroke-linejoin="round"/>
<path d="M-1.4,-7.2 Q-5.2,0 -1.2,7.2" fill="none" stroke="#555" stroke-width="0.7"/>
<path d="M-3.8,-8.8 L1.5,-9.1" fill="none" stroke="#222" stroke-width="1.5" stroke-linecap="round"/>
<path d="M-3.2,8.6 L2.5,9.2" fill="none" stroke="#222" stroke-width="1.5" stroke-linecap="round"/>
<circle cx="-6.9" cy="3.4" r="1.0" fill="#333"/>
</g>
<rect x="920.50" y="148.00" width="20.50" height="39.00" fill="#fff" stroke="#3a3a3a" stroke-width="0.9" />
<g transform="translate(935.50,168.00) rotate(180)">
<rect x="-4.6" y="-5.6" width="9.2" height="11.2" rx="0.8" fill="#d9d9d9" stroke="#777" stroke-width="0.6"/>
<rect x="-1.4" y="-4.2" width="3.2" height="8.4" fill="#6a6a6a"/>
<rect x="-3.4" y="-4.2" width="1.4" height="8.4" fill="#aaa"/>
</g>
<rect x="924.30" y="187.60" width="20.70" height="10.70" fill="#fff" stroke="#3a3a3a" stroke-width="0.9" />
<rect x="987.80" y="143.20" width="11.20" height="61.80" fill="#fff" stroke="#3a3a3a" stroke-width="0.9" />
<line x1="987.80" y1="163.50" x2="999.00" y2="163.50" stroke="#3a3a3a" stroke-width="0.8" />
<line x1="987.80" y1="184.30" x2="999.00" y2="184.30" stroke="#3a3a3a" stroke-width="0.8" />
<rect x="980.90" y="217.90" width="14.00" height="11.30" fill="#fff" stroke="#86867c" stroke-width="0.8" />
<path d="M992.70,218.50 Q994.50,223.55 992.70,228.60" fill="none" stroke="#c4c4c4" stroke-width="0.6" />
<rect x="980.90" y="246.60" width="14.00" height="11.30" fill="#fff" stroke="#86867c" stroke-width="0.8" />
<path d="M992.70,247.20 Q994.50,252.25 992.70,257.30" fill="none" stroke="#c4c4c4" stroke-width="0.6" />
<circle cx="987.90" cy="237.80" r="8.3" fill="#fff" stroke="#86867c" stroke-width="0.8"/>
<path d="M920.40,247.40 L937.00,247.40 A16.6,16.6 0 0 0 920.40,230.80" fill="none" stroke="#9a9468" stroke-width="0.8" />
<rect x="53.00" y="308.75" width="175.00" height="6.75" fill="#000" />
<rect x="53.00" y="394.25" width="175.00" height="6.50" fill="#000" />
<rect x="217.50" y="302.00" width="10.70" height="25.00" fill="#000" />
<rect x="217.50" y="373.50" width="10.70" height="32.75" fill="#000" />
<line x1="105.00" y1="315.50" x2="105.00" y2="394.30" stroke="#707070" stroke-width="0.9" />
<line x1="116.90" y1="315.50" x2="116.90" y2="394.30" stroke="#707070" stroke-width="0.9" />
<line x1="128.80" y1="315.50" x2="128.80" y2="394.30" stroke="#707070" stroke-width="0.9" />
<line x1="140.70" y1="315.50" x2="140.70" y2="394.30" stroke="#707070" stroke-width="0.9" />
<line x1="152.60" y1="315.50" x2="152.60" y2="394.30" stroke="#707070" stroke-width="0.9" />
<line x1="164.50" y1="315.50" x2="164.50" y2="394.30" stroke="#707070" stroke-width="0.9" />
<line x1="177.50" y1="315.50" x2="177.50" y2="394.30" stroke="#555" stroke-width="0.7" />
<line x1="85.00" y1="333.50" x2="172.00" y2="333.50" stroke="#707070" stroke-width="0.8" />
<line x1="85.00" y1="333.50" x2="85.00" y2="375.00" stroke="#707070" stroke-width="0.9" />
<line x1="85.00" y1="375.00" x2="177.30" y2="375.00" stroke="#707070" stroke-width="0.8" />
<line x1="105.00" y1="355.00" x2="177.30" y2="355.00" stroke="#606060" stroke-width="0.9" />
<path d="M169,330.3 L177,333.3 L169,336.3 Z" fill="#000" stroke="none" stroke-width="0" />
<path d="M222.50,330.00 L203.00,330.00 A19.5,19.5 0 0 0 222.50,349.50" fill="none" stroke="#9a9a9a" stroke-width="0.7" />
<path d="M222.50,372.00 L203.00,372.00 A19.5,19.5 0 0 1 222.50,352.50" fill="none" stroke="#9a9a9a" stroke-width="0.7" />
<line x1="222.60" y1="327.00" x2="222.60" y2="373.30" stroke="#9a9a9a" stroke-width="0.7" />
<line x1="226.20" y1="327.00" x2="226.20" y2="373.30" stroke="#9a9a9a" stroke-width="0.7" />
<rect x="93.80" y="400.80" width="105.00" height="11.20" fill="#fff" stroke="#3a3a3a" stroke-width="0.9" />
<line x1="115.00" y1="400.80" x2="115.00" y2="412.00" stroke="#3a3a3a" stroke-width="0.8" />
<line x1="135.80" y1="400.80" x2="135.80" y2="412.00" stroke="#3a3a3a" stroke-width="0.8" />
<line x1="156.30" y1="400.80" x2="156.30" y2="412.00" stroke="#3a3a3a" stroke-width="0.8" />
<line x1="177.00" y1="400.80" x2="177.00" y2="412.00" stroke="#3a3a3a" stroke-width="0.8" />
<rect x="322.00" y="326.40" width="16.90" height="15.10" fill="#fff" stroke="#8c8c8c" stroke-width="0.7" rx="3" />
<line x1="336.40" y1="327.90" x2="336.40" y2="340.00" stroke="#aaa" stroke-width="0.6" />
<line x1="323.50" y1="328.60" x2="335.90" y2="328.60" stroke="#bbb" stroke-width="0.5" />
<line x1="323.50" y1="339.30" x2="335.90" y2="339.30" stroke="#bbb" stroke-width="0.5" />
<rect x="322.00" y="361.50" width="16.90" height="14.80" fill="#fff" stroke="#8c8c8c" stroke-width="0.7" rx="3" />
<line x1="336.40" y1="363.00" x2="336.40" y2="374.80" stroke="#aaa" stroke-width="0.6" />
<line x1="323.50" y1="363.70" x2="335.90" y2="363.70" stroke="#bbb" stroke-width="0.5" />
<line x1="323.50" y1="374.10" x2="335.90" y2="374.10" stroke="#bbb" stroke-width="0.5" />
<rect x="303.30" y="314.30" width="19.70" height="82.00" fill="#fff" stroke="#3a3a3a" stroke-width="0.9" />
<rect x="350.50" y="316.60" width="11.50" height="82.60" fill="#fff" stroke="#3a3a3a" stroke-width="0.9" />
<line x1="350.50" y1="336.20" x2="362.00" y2="336.20" stroke="#3a3a3a" stroke-width="0.8" />
<line x1="350.50" y1="357.50" x2="362.00" y2="357.50" stroke="#3a3a3a" stroke-width="0.8" />
<line x1="350.50" y1="378.50" x2="362.00" y2="378.50" stroke="#3a3a3a" stroke-width="0.8" />
<rect x="364.40" y="304.00" width="5.60" height="99.00" fill="#dadada" />
<line x1="366.70" y1="304.00" x2="366.70" y2="403.00" stroke="#f4f4f4" stroke-width="1.2" />
<rect x="362.00" y="302.00" width="3.00" height="103.00" fill="#000" />
<rect x="369.60" y="302.00" width="1.90" height="103.00" fill="#000" />
<rect x="362.00" y="302.00" width="23.00" height="2.50" fill="#000" />
<rect x="371.50" y="302.00" width="11.00" height="9.30" fill="#000" />
<rect x="371.50" y="396.30" width="9.80" height="8.70" fill="#000" />
<rect x="362.00" y="402.50" width="36.80" height="2.50" fill="#000" />
<rect x="371.50" y="350.50" width="83.50" height="4.00" fill="#000" />
<rect x="453.75" y="302.00" width="3.25" height="103.00" fill="#000" />
<rect x="437.50" y="301.60" width="29.50" height="2.60" fill="#000" />
<rect x="450.00" y="402.50" width="20.00" height="2.50" fill="#000" />
<rect x="372.00" y="312.00" width="14.30" height="38.50" fill="#fff" stroke="#3a3a3a" stroke-width="0.9" />
<rect x="372.00" y="355.00" width="14.30" height="40.80" fill="#fff" stroke="#3a3a3a" stroke-width="0.9" />
<rect x="374.00" y="330.00" width="10.50" height="13.00" fill="#fff" stroke="#999" stroke-width="0.6" rx="3" />
<line x1="376.00" y1="336.50" x2="381.00" y2="336.50" stroke="#999" stroke-width="0.6" />
<line x1="385.00" y1="302.50" x2="411.25" y2="302.50" stroke="#c4c4ba" stroke-width="1.2" />
<rect x="411.25" y="301.70" width="26.25" height="2.10" fill="#b9b9b0" />
<line x1="408.75" y1="299.30" x2="413.75" y2="299.30" stroke="#9a9572" stroke-width="0.6" />
<line x1="467.00" y1="302.50" x2="493.25" y2="302.50" stroke="#c4c4ba" stroke-width="1.2" />
<rect x="493.25" y="301.70" width="26.25" height="2.10" fill="#b9b9b0" />
<line x1="490.75" y1="299.30" x2="495.75" y2="299.30" stroke="#9a9572" stroke-width="0.6" />
<line x1="540.00" y1="302.50" x2="566.25" y2="302.50" stroke="#c4c4ba" stroke-width="1.2" />
<rect x="566.25" y="301.70" width="26.25" height="2.10" fill="#b9b9b0" />
<line x1="563.75" y1="299.30" x2="568.75" y2="299.30" stroke="#9a9572" stroke-width="0.6" />
<line x1="693.00" y1="302.50" x2="719.25" y2="302.50" stroke="#c4c4ba" stroke-width="1.2" />
<rect x="719.25" y="301.70" width="26.25" height="2.10" fill="#b9b9b0" />
<line x1="716.75" y1="299.30" x2="721.75" y2="299.30" stroke="#9a9572" stroke-width="0.6" />
<line x1="776.30" y1="302.50" x2="802.15" y2="302.50" stroke="#c4c4ba" stroke-width="1.2" />
<rect x="802.15" y="301.70" width="25.85" height="2.10" fill="#b9b9b0" />
<line x1="799.65" y1="299.30" x2="804.65" y2="299.30" stroke="#9a9572" stroke-width="0.6" />
<rect x="398.80" y="402.80" width="25.60" height="1.20" fill="#e6e6de" />
<line x1="398.80" y1="404.40" x2="424.40" y2="404.40" stroke="#a9a9a0" stroke-width="0.8" />
<rect x="424.40" y="402.90" width="25.60" height="2.00" fill="#b9b9b0" />
<line x1="421.90" y1="407.60" x2="426.90" y2="407.60" stroke="#9a9572" stroke-width="0.6" />
<rect x="470.00" y="402.80" width="26.25" height="1.20" fill="#e6e6de" />
<line x1="470.00" y1="404.40" x2="496.25" y2="404.40" stroke="#a9a9a0" stroke-width="0.8" />
<rect x="496.25" y="402.90" width="26.25" height="2.00" fill="#b9b9b0" />
<line x1="493.75" y1="407.60" x2="498.75" y2="407.60" stroke="#9a9572" stroke-width="0.6" />
<rect x="548.00" y="402.80" width="26.00" height="1.20" fill="#e6e6de" />
<line x1="548.00" y1="404.40" x2="574.00" y2="404.40" stroke="#a9a9a0" stroke-width="0.8" />
<rect x="574.00" y="402.90" width="26.00" height="2.00" fill="#b9b9b0" />
<line x1="571.50" y1="407.60" x2="576.50" y2="407.60" stroke="#9a9572" stroke-width="0.6" />
<rect x="699.00" y="402.80" width="26.15" height="1.20" fill="#e6e6de" />
<line x1="699.00" y1="404.40" x2="725.15" y2="404.40" stroke="#a9a9a0" stroke-width="0.8" />
<rect x="725.15" y="402.90" width="26.15" height="2.00" fill="#b9b9b0" />
<line x1="722.65" y1="407.60" x2="727.65" y2="407.60" stroke="#9a9572" stroke-width="0.6" />
<rect x="782.00" y="402.80" width="26.15" height="1.20" fill="#e6e6de" />
<line x1="782.00" y1="404.40" x2="808.15" y2="404.40" stroke="#a9a9a0" stroke-width="0.8" />
<rect x="808.15" y="402.90" width="26.15" height="2.00" fill="#b9b9b0" />
<line x1="805.65" y1="407.60" x2="810.65" y2="407.60" stroke="#9a9572" stroke-width="0.6" />
<rect x="526.25" y="302.00" width="10.50" height="11.75" fill="#000" />
<rect x="519.50" y="301.60" width="20.50" height="2.60" fill="#000" />
<rect x="526.25" y="393.75" width="10.50" height="11.25" fill="#000" />
<rect x="522.50" y="402.50" width="25.50" height="2.50" fill="#000" />
<rect x="607.00" y="302.00" width="3.25" height="103.00" fill="#000" />
<rect x="592.50" y="301.60" width="26.25" height="2.60" fill="#000" />
<rect x="600.00" y="402.50" width="23.75" height="2.50" fill="#000" />
<rect x="610.00" y="350.50" width="76.50" height="4.50" fill="#000" />
<rect x="686.25" y="304.00" width="3.00" height="98.00" fill="#000" />
<rect x="681.25" y="301.25" width="11.75" height="9.25" fill="#000" />
<rect x="681.25" y="396.25" width="10.75" height="8.75" fill="#000" />
<rect x="670.80" y="301.70" width="22.50" height="2.30" fill="#000" />
<rect x="676.20" y="402.80" width="22.50" height="2.20" fill="#000" />
<line x1="618.70" y1="302.50" x2="644.75" y2="302.50" stroke="#c4c4ba" stroke-width="1.2" />
<rect x="644.75" y="301.70" width="26.05" height="2.10" fill="#b9b9b0" />
<line x1="642.25" y1="299.30" x2="647.25" y2="299.30" stroke="#9a9572" stroke-width="0.6" />
<rect x="623.60" y="402.80" width="26.30" height="1.20" fill="#e6e6de" />
<line x1="623.60" y1="404.40" x2="649.90" y2="404.40" stroke="#a9a9a0" stroke-width="0.8" />
<rect x="649.90" y="402.90" width="26.30" height="2.00" fill="#b9b9b0" />
<line x1="647.40" y1="407.60" x2="652.40" y2="407.60" stroke="#9a9572" stroke-width="0.6" />
<rect x="610.40" y="304.60" width="10.10" height="45.70" fill="#fff" stroke="#3a3a3a" stroke-width="0.9" />
<rect x="610.40" y="355.20" width="10.10" height="47.00" fill="#fff" stroke="#3a3a3a" stroke-width="0.9" />
<rect x="669.50" y="315.00" width="16.70" height="35.20" fill="#fff" stroke="#3a3a3a" stroke-width="0.9" />
<line x1="669.50" y1="332.50" x2="686.20" y2="332.50" stroke="#3a3a3a" stroke-width="0.8" />
<rect x="669.50" y="355.30" width="16.70" height="34.70" fill="#fff" stroke="#3a3a3a" stroke-width="0.9" />
<line x1="669.50" y1="373.00" x2="686.20" y2="373.00" stroke="#3a3a3a" stroke-width="0.8" />
<rect x="689.40" y="310.80" width="7.60" height="82.20" fill="#fff" stroke="#3a3a3a" stroke-width="0.9" />
<rect x="697.00" y="334.50" width="22.30" height="41.00" fill="#fff" stroke="#3a3a3a" stroke-width="0.9" />
<rect x="745.50" y="301.60" width="30.80" height="2.60" fill="#000" />
<rect x="751.30" y="402.50" width="30.70" height="2.50" fill="#000" />
<rect x="756.80" y="305.80" width="13.20" height="96.00" fill="#fff" stroke="#3a3a3a" stroke-width="0.9" />
<rect x="809.30" y="332.00" width="22.50" height="40.50" fill="#fff" stroke="#3a3a3a" stroke-width="0.9" />
<rect x="831.80" y="310.00" width="22.70" height="83.30" fill="#fff" stroke="#3a3a3a" stroke-width="0.9" />
<line x1="843.00" y1="310.00" x2="843.00" y2="393.30" stroke="#3a3a3a" stroke-width="0.8" />
<line x1="831.80" y1="330.80" x2="854.50" y2="330.80" stroke="#3a3a3a" stroke-width="0.8" />
<line x1="831.80" y1="351.30" x2="854.50" y2="351.30" stroke="#3a3a3a" stroke-width="0.8" />
<line x1="831.80" y1="372.50" x2="854.50" y2="372.50" stroke="#3a3a3a" stroke-width="0.8" />
<rect x="835.00" y="300.80" width="10.75" height="9.20" fill="#000" />
<rect x="828.00" y="301.60" width="8.00" height="2.60" fill="#000" />
<rect x="834.25" y="393.75" width="9.50" height="11.25" fill="#000" />
<rect x="834.25" y="402.50" width="11.75" height="2.50" fill="#000" />
<rect x="499.90" y="323.10" width="15.00" height="16.90" fill="#fdfdfb" stroke="#8a866e" stroke-width="0.9" rx="1.8" />
<line x1="501.40" y1="325.60" x2="513.40" y2="325.60" stroke="#999" stroke-width="0.5" />
<rect x="499.90" y="363.00" width="15.00" height="16.40" fill="#fdfdfb" stroke="#8a866e" stroke-width="0.9" rx="1.8" />
<line x1="501.40" y1="376.90" x2="513.40" y2="376.90" stroke="#999" stroke-width="0.5" />
<rect x="516.53" y="323.10" width="15.00" height="16.90" fill="#fdfdfb" stroke="#8a866e" stroke-width="0.9" rx="1.8" />
<line x1="518.03" y1="325.60" x2="530.03" y2="325.60" stroke="#999" stroke-width="0.5" />
<rect x="516.53" y="363.00" width="15.00" height="16.40" fill="#fdfdfb" stroke="#8a866e" stroke-width="0.9" rx="1.8" />
<line x1="518.03" y1="376.90" x2="530.03" y2="376.90" stroke="#999" stroke-width="0.5" />
<rect x="533.16" y="323.10" width="15.00" height="16.90" fill="#fdfdfb" stroke="#8a866e" stroke-width="0.9" rx="1.8" />
<line x1="534.66" y1="325.60" x2="546.66" y2="325.60" stroke="#999" stroke-width="0.5" />
<rect x="533.16" y="363.00" width="15.00" height="16.40" fill="#fdfdfb" stroke="#8a866e" stroke-width="0.9" rx="1.8" />
<line x1="534.66" y1="376.90" x2="546.66" y2="376.90" stroke="#999" stroke-width="0.5" />
<rect x="549.79" y="323.10" width="15.00" height="16.90" fill="#fdfdfb" stroke="#8a866e" stroke-width="0.9" rx="1.8" />
<line x1="551.29" y1="325.60" x2="563.29" y2="325.60" stroke="#999" stroke-width="0.5" />
<rect x="549.79" y="363.00" width="15.00" height="16.40" fill="#fdfdfb" stroke="#8a866e" stroke-width="0.9" rx="1.8" />
<line x1="551.29" y1="376.90" x2="563.29" y2="376.90" stroke="#999" stroke-width="0.5" />
<rect x="484.30" y="344.00" width="9.70" height="14.50" fill="#fdfdfb" stroke="#8a866e" stroke-width="0.9" rx="1.8" />
<rect x="570.00" y="344.00" width="10.40" height="14.50" fill="#fdfdfb" stroke="#8a866e" stroke-width="0.9" rx="1.8" />
<rect x="491.80" y="337.00" width="81.60" height="28.50" fill="#fff" stroke="#77735c" stroke-width="0.9" rx="14.2" />
<line x1="520.50" y1="337.50" x2="520.50" y2="365.00" stroke="#d8d8d2" stroke-width="0.6" />
<line x1="532.40" y1="337.50" x2="532.40" y2="365.00" stroke="#d8d8d2" stroke-width="0.6" />
<line x1="544.50" y1="337.50" x2="544.50" y2="365.00" stroke="#d8d8d2" stroke-width="0.6" />
<g transform="translate(890.00,322.00) rotate(-45)">
<rect x="-5.7" y="-6.5" width="11.4" height="13" fill="#fff" stroke="#333" stroke-width="0.8"/>
<line x1="-5.7" y1="-4.3" x2="5.7" y2="-4.3" stroke="#555" stroke-width="0.7"/>
</g>
<g transform="translate(944.00,322.00) rotate(45)">
<rect x="-5.7" y="-6.5" width="11.4" height="13" fill="#fff" stroke="#333" stroke-width="0.8"/>
<line x1="-5.7" y1="-4.3" x2="5.7" y2="-4.3" stroke="#555" stroke-width="0.7"/>
</g>
<g transform="translate(890.00,376.00) rotate(-135)">
<rect x="-5.7" y="-6.5" width="11.4" height="13" fill="#fff" stroke="#333" stroke-width="0.8"/>
<line x1="-5.7" y1="-4.3" x2="5.7" y2="-4.3" stroke="#555" stroke-width="0.7"/>
</g>
<g transform="translate(944.00,376.00) rotate(135)">
<rect x="-5.7" y="-6.5" width="11.4" height="13" fill="#fff" stroke="#333" stroke-width="0.8"/>
<line x1="-5.7" y1="-4.3" x2="5.7" y2="-4.3" stroke="#555" stroke-width="0.7"/>
</g>
<path d="M899.5,308.1 L934.75,308.1 L934.75,322 L944.2,331.5 L958.3,331.5 L958.3,366.3 L944.2,366.3 L934.75,376.2 L934.75,389.9 L899.5,389.9 L899.5,376.2 L889.2,366.3 L876.1,366.3 L876.1,331.5 L889.2,331.5 L899.5,322 Z" fill="#fff" stroke="#3a3a3a" stroke-width="0.8" />
<line x1="917.00" y1="308.10" x2="917.00" y2="389.90" stroke="#333" stroke-width="0.9" />
<line x1="876.10" y1="349.00" x2="958.30" y2="349.00" stroke="#333" stroke-width="0.9" />
<line x1="889.20" y1="331.50" x2="889.20" y2="366.30" stroke="#8a8a8a" stroke-width="0.7" />
<line x1="944.20" y1="331.50" x2="944.20" y2="366.30" stroke="#8a8a8a" stroke-width="0.7" />
<line x1="899.50" y1="322.00" x2="934.75" y2="322.00" stroke="#8a8a8a" stroke-width="0.7" />
<line x1="899.50" y1="376.20" x2="934.75" y2="376.20" stroke="#8a8a8a" stroke-width="0.7" />
<rect x="101.60" y="443.30" width="93.40" height="3.60" fill="#000" />
<rect x="101.60" y="443.30" width="3.40" height="7.00" fill="#000" />
<rect x="101.60" y="471.20" width="3.40" height="19.20" fill="#000" />
<rect x="102.30" y="450.30" width="2.00" height="20.90" fill="#c9d5dc" />
<rect x="64.50" y="472.60" width="10.50" height="3.80" fill="#000" />
<rect x="96.30" y="472.60" width="8.70" height="3.80" fill="#000" />
<rect x="75.00" y="473.40" width="21.30" height="2.20" fill="#c9d5dc" />
<rect x="101.60" y="487.10" width="51.00" height="3.30" fill="#000" />
<rect x="149.20" y="443.30" width="3.60" height="77.70" fill="#000" />
<rect x="191.40" y="443.30" width="3.60" height="3.60" fill="#000" />
<rect x="191.40" y="461.90" width="3.60" height="14.10" fill="#000" />
<rect x="192.10" y="446.90" width="2.20" height="15.00" fill="#c9d5dc" />
<rect x="152.80" y="472.90" width="45.50" height="3.60" fill="#000" />
<rect x="218.20" y="472.90" width="4.30" height="3.60" fill="#000" />
<rect x="198.30" y="473.60" width="19.90" height="2.20" fill="#c9d5dc" />
<rect x="222.20" y="443.75" width="5.90" height="141.85" fill="#000" />
<rect x="215.60" y="572.70" width="12.90" height="12.60" fill="#000" />
<rect x="133.20" y="490.40" width="3.40" height="30.60" fill="#000" />
<rect x="64.50" y="519.90" width="10.50" height="3.90" fill="#000" />
<rect x="96.30" y="519.90" width="102.00" height="3.90" fill="#000" />
<rect x="218.20" y="519.90" width="4.30" height="3.90" fill="#000" />
<rect x="75.00" y="520.70" width="21.30" height="2.30" fill="#c9d5dc" />
<rect x="198.30" y="520.70" width="19.90" height="2.30" fill="#c9d5dc" />
<rect x="110.00" y="523.80" width="3.90" height="65.20" fill="#000" />
<rect x="177.10" y="523.80" width="3.80" height="65.20" fill="#000" />
<rect x="143.90" y="523.80" width="6.00" height="52.50" fill="#000" />
<rect x="110.00" y="547.80" width="70.90" height="4.00" fill="#000" />
<rect x="110.00" y="573.90" width="70.90" height="3.90" fill="#000" />
<rect x="110.70" y="530.00" width="2.50" height="14.50" fill="#c9d5dc" />
<rect x="177.80" y="530.00" width="2.40" height="14.50" fill="#c9d5dc" />
<rect x="110.70" y="555.40" width="2.50" height="13.10" fill="#c9d5dc" />
<rect x="177.80" y="555.40" width="2.40" height="13.10" fill="#c9d5dc" />
<path d="M110.00,543.80 L100.00,543.80 A10,10 0 0 1 110.00,533.80" fill="none" stroke="#5f7886" stroke-width="0.6" />
<path d="M110.00,568.00 L100.00,568.00 A10,10 0 0 1 110.00,558.00" fill="none" stroke="#5f7886" stroke-width="0.6" />
<path d="M181.00,543.80 L191.00,543.80 A10,10 0 0 0 181.00,533.80" fill="none" stroke="#5f7886" stroke-width="0.6" />
<path d="M181.00,568.00 L191.00,568.00 A10,10 0 0 0 181.00,558.00" fill="none" stroke="#5f7886" stroke-width="0.6" />
<path d="M75.50,476.40 L75.50,493.40 A17,17 0 0 0 92.50,476.40" fill="none" stroke="#5f7886" stroke-width="0.6" />
<path d="M75.50,520.00 L75.50,503.00 A17,17 0 0 1 92.50,520.00" fill="none" stroke="#5f7886" stroke-width="0.6" />
<path d="M217.80,476.40 L217.80,493.40 A17,17 0 0 1 200.80,476.40" fill="none" stroke="#5f7886" stroke-width="0.6" />
<path d="M217.80,520.00 L217.80,503.00 A17,17 0 0 0 200.80,520.00" fill="none" stroke="#5f7886" stroke-width="0.6" />
<path d="M104.60,452.00 L118.60,452.00 A14,14 0 0 1 104.60,466.00" fill="none" stroke="#5f7886" stroke-width="0.6" />
<path d="M191.40,447.50 L179.40,447.50 A12,12 0 0 0 191.40,459.50" fill="none" stroke="#5f7886" stroke-width="0.6" />
<path d="M96.80,585.60 L96.80,574.40 A11.2,11.2 0 0 1 108.00,585.60" fill="none" stroke="#5f7886" stroke-width="0.6" />
<path d="M94.60,588.40 L94.60,599.60 A11.2,11.2 0 0 1 83.40,588.40" fill="none" stroke="#8a8a8a" stroke-width="0.6" />
<path d="M195.40,585.60 L195.40,574.40 A11.2,11.2 0 0 1 206.60,585.60" fill="none" stroke="#5f7886" stroke-width="0.6" />
<path d="M194.60,588.40 L194.60,599.60 A11.2,11.2 0 0 1 183.40,588.40" fill="none" stroke="#8a8a8a" stroke-width="0.6" />
<rect x="126.30" y="532.20" width="17.60" height="10.80" fill="#fff" stroke="#666" stroke-width="0.6" rx="5.399999999999977" />
<rect x="137.90" y="532.20" width="6.00" height="10.80" fill="#fff" stroke="#777" stroke-width="0.5" rx="1" />
<rect x="126.30" y="556.90" width="17.60" height="10.90" fill="#fff" stroke="#666" stroke-width="0.6" rx="5.449999999999989" />
<rect x="137.90" y="556.90" width="6.00" height="10.90" fill="#fff" stroke="#777" stroke-width="0.5" rx="1" />
<rect x="149.90" y="532.20" width="17.80" height="10.80" fill="#fff" stroke="#666" stroke-width="0.6" rx="5.399999999999977" />
<rect x="149.90" y="532.20" width="6.00" height="10.80" fill="#fff" stroke="#777" stroke-width="0.5" rx="1" />
<rect x="149.90" y="556.90" width="17.80" height="10.90" fill="#fff" stroke="#666" stroke-width="0.6" rx="5.449999999999989" />
<rect x="149.90" y="556.90" width="6.00" height="10.90" fill="#fff" stroke="#777" stroke-width="0.5" rx="1" />
<rect x="132.10" y="453.00" width="17.10" height="9.60" fill="#fff" stroke="#666" stroke-width="0.6" rx="4.800000000000011" />
<rect x="143.20" y="453.00" width="6.00" height="9.60" fill="#fff" stroke="#777" stroke-width="0.5" rx="1" />
<rect x="152.80" y="481.20" width="8.90" height="10.60" fill="#fff" stroke="#666" stroke-width="0.6" rx="2.5" />
<line x1="155.80" y1="486.50" x2="158.50" y2="486.50" stroke="#888" stroke-width="0.6" />
<rect x="152.80" y="502.40" width="8.90" height="10.60" fill="#fff" stroke="#666" stroke-width="0.6" rx="2.5" />
<line x1="155.80" y1="507.70" x2="158.50" y2="507.70" stroke="#888" stroke-width="0.6" />
<rect x="124.60" y="501.00" width="8.60" height="10.40" fill="#fff" stroke="#666" stroke-width="0.6" rx="2.5" />
<line x1="127.60" y1="506.20" x2="130.00" y2="506.20" stroke="#888" stroke-width="0.6" />
<path d="M64.5,536.30 A6.3,3.95 0 0 1 64.5,544.20 Z" fill="#fff" stroke="#777" stroke-width="0.5" />
<path d="M64.5,554.50 A6.3,4.10 0 0 1 64.5,562.70 Z" fill="#fff" stroke="#777" stroke-width="0.5" />
<rect x="228.00" y="444.00" width="73.20" height="1.80" fill="#b5b3a8" />
<rect x="298.80" y="444.00" width="2.40" height="143.50" fill="#b5b3a8" />
<rect x="298.90" y="456.20" width="2.20" height="2.40" fill="#111" />
<rect x="298.80" y="583.00" width="2.40" height="5.00" fill="#333" />
<path d="M298.80,460.40 L282.40,460.40 A16.4,16.4 0 0 0 298.80,476.80" fill="none" stroke="#9a9468" stroke-width="0.8" />
<rect x="228.90" y="457.70" width="13.90" height="10.80" fill="#fff" stroke="#86867c" stroke-width="0.8" />
<path d="M231.10,458.30 Q229.30,463.10 231.10,467.90" fill="none" stroke="#c4c4c4" stroke-width="0.6" />
<rect x="228.90" y="490.60" width="13.90" height="10.80" fill="#fff" stroke="#86867c" stroke-width="0.8" />
<path d="M231.10,491.20 Q229.30,496.00 231.10,500.80" fill="none" stroke="#c4c4c4" stroke-width="0.6" />
<circle cx="236.60" cy="477.30" r="8.3" fill="#fff" stroke="#86867c" stroke-width="0.8"/>
<g transform="translate(273.50,542.00) rotate(0) translate(4.6,0) scale(0.93) translate(-4.6,0)">
<path d="M5.2,-9 L-3.4,-8.7 Q-11.2,0 -3.4,8.7 L5.2,9.2 Z" fill="#fff" stroke="#3a3a3a" stroke-width="0.9" stroke-linejoin="round"/>
<path d="M-1.4,-7.2 Q-5.2,0 -1.2,7.2" fill="none" stroke="#555" stroke-width="0.7"/>
<path d="M-3.8,-8.8 L1.5,-9.1" fill="none" stroke="#222" stroke-width="1.5" stroke-linecap="round"/>
<path d="M-3.2,8.6 L2.5,9.2" fill="none" stroke="#222" stroke-width="1.5" stroke-linecap="round"/>
<circle cx="-6.9" cy="3.4" r="1.0" fill="#333"/>
</g>
<rect x="278.80" y="522.00" width="19.90" height="39.30" fill="#fff" stroke="#3a3a3a" stroke-width="0.9" />
<g transform="translate(284.20,542.00) rotate(0)">
<rect x="-4.6" y="-5.6" width="9.2" height="11.2" rx="0.8" fill="#d9d9d9" stroke="#777" stroke-width="0.6"/>
<rect x="-1.4" y="-4.2" width="3.2" height="8.4" fill="#6a6a6a"/>
<rect x="-3.4" y="-4.2" width="1.4" height="8.4" fill="#aaa"/>
</g>
<rect x="341.30" y="433.30" width="62.50" height="11.70" fill="#fff" stroke="#3a3a3a" stroke-width="0.9" />
<line x1="362.50" y1="433.30" x2="362.50" y2="445.00" stroke="#3a3a3a" stroke-width="0.8" />
<line x1="383.30" y1="433.30" x2="383.30" y2="445.00" stroke="#3a3a3a" stroke-width="0.8" />
<rect x="501.30" y="439.50" width="62.50" height="11.30" fill="#fff" stroke="#3a3a3a" stroke-width="0.9" />
<line x1="521.80" y1="439.50" x2="521.80" y2="450.80" stroke="#3a3a3a" stroke-width="0.8" />
<line x1="542.50" y1="439.50" x2="542.50" y2="450.80" stroke="#3a3a3a" stroke-width="0.8" />
<rect x="653.30" y="439.80" width="62.50" height="11.50" fill="#fff" stroke="#3a3a3a" stroke-width="0.9" />
<line x1="674.00" y1="439.80" x2="674.00" y2="451.30" stroke="#3a3a3a" stroke-width="0.8" />
<line x1="695.00" y1="439.80" x2="695.00" y2="451.30" stroke="#3a3a3a" stroke-width="0.8" />
<rect x="810.50" y="440.50" width="62.50" height="12.00" fill="#fff" stroke="#3a3a3a" stroke-width="0.9" />
<line x1="831.30" y1="440.50" x2="831.30" y2="452.50" stroke="#3a3a3a" stroke-width="0.8" />
<line x1="852.50" y1="440.50" x2="852.50" y2="452.50" stroke="#3a3a3a" stroke-width="0.8" />
<g transform="translate(346.20,480.40) rotate(0) translate(4.6,0) scale(0.93) translate(-4.6,0)">
<path d="M5.2,-9 L-3.4,-8.7 Q-11.2,0 -3.4,8.7 L5.2,9.2 Z" fill="#fff" stroke="#3a3a3a" stroke-width="0.9" stroke-linejoin="round"/>
<path d="M-1.4,-7.2 Q-5.2,0 -1.2,7.2" fill="none" stroke="#555" stroke-width="0.7"/>
<path d="M-3.8,-8.8 L1.5,-9.1" fill="none" stroke="#222" stroke-width="1.5" stroke-linecap="round"/>
<path d="M-3.2,8.6 L2.5,9.2" fill="none" stroke="#222" stroke-width="1.5" stroke-linecap="round"/>
<circle cx="-6.9" cy="3.4" r="1.0" fill="#333"/>
</g>
<g transform="translate(395.90,480.40) rotate(180) translate(4.6,0) scale(0.93) translate(-4.6,0)">
<path d="M5.2,-9 L-3.4,-8.7 Q-11.2,0 -3.4,8.7 L5.2,9.2 Z" fill="#fff" stroke="#3a3a3a" stroke-width="0.9" stroke-linejoin="round"/>
<path d="M-1.4,-7.2 Q-5.2,0 -1.2,7.2" fill="none" stroke="#555" stroke-width="0.7"/>
<path d="M-3.8,-8.8 L1.5,-9.1" fill="none" stroke="#222" stroke-width="1.5" stroke-linecap="round"/>
<path d="M-3.2,8.6 L2.5,9.2" fill="none" stroke="#222" stroke-width="1.5" stroke-linecap="round"/>
<circle cx="-6.9" cy="3.4" r="1.0" fill="#333"/>
</g>
<g transform="translate(345.40,530.51) rotate(0) translate(4.6,0) scale(0.93) translate(-4.6,0)">
<path d="M5.2,-9 L-3.4,-8.7 Q-11.2,0 -3.4,8.7 L5.2,9.2 Z" fill="#fff" stroke="#3a3a3a" stroke-width="0.9" stroke-linejoin="round"/>
<path d="M-1.4,-7.2 Q-5.2,0 -1.2,7.2" fill="none" stroke="#555" stroke-width="0.7"/>
<path d="M-3.8,-8.8 L1.5,-9.1" fill="none" stroke="#222" stroke-width="1.5" stroke-linecap="round"/>
<path d="M-3.2,8.6 L2.5,9.2" fill="none" stroke="#222" stroke-width="1.5" stroke-linecap="round"/>
<circle cx="-6.9" cy="3.4" r="1.0" fill="#333"/>
</g>
<g transform="translate(394.60,530.51) rotate(180) translate(4.6,0) scale(0.93) translate(-4.6,0)">
<path d="M5.2,-9 L-3.4,-8.7 Q-11.2,0 -3.4,8.7 L5.2,9.2 Z" fill="#fff" stroke="#3a3a3a" stroke-width="0.9" stroke-linejoin="round"/>
<path d="M-1.4,-7.2 Q-5.2,0 -1.2,7.2" fill="none" stroke="#555" stroke-width="0.7"/>
<path d="M-3.8,-8.8 L1.5,-9.1" fill="none" stroke="#222" stroke-width="1.5" stroke-linecap="round"/>
<path d="M-3.2,8.6 L2.5,9.2" fill="none" stroke="#222" stroke-width="1.5" stroke-linecap="round"/>
<circle cx="-6.9" cy="3.4" r="1.0" fill="#333"/>
</g>
<rect x="350.80" y="460.00" width="40.50" height="40.00" fill="#fff" stroke="#3a3a3a" stroke-width="0.9" />
<line x1="370.80" y1="460.00" x2="370.80" y2="500.00" stroke="#3a3a3a" stroke-width="0.8" />
<rect x="350.00" y="511.30" width="40.00" height="39.20" fill="#fff" stroke="#3a3a3a" stroke-width="0.9" />
<line x1="370.00" y1="511.30" x2="370.00" y2="550.50" stroke="#3a3a3a" stroke-width="0.8" />
<rect x="344.50" y="500.00" width="62.50" height="11.30" fill="#fff" stroke="#3a3a3a" stroke-width="0.9" />
<line x1="365.00" y1="500.00" x2="365.00" y2="511.30" stroke="#3a3a3a" stroke-width="0.8" />
<line x1="385.80" y1="500.00" x2="385.80" y2="511.30" stroke="#3a3a3a" stroke-width="0.8" />
<g transform="translate(356.00,480.40) rotate(0)">
<rect x="-4.6" y="-5.6" width="9.2" height="11.2" rx="0.8" fill="#d9d9d9" stroke="#777" stroke-width="0.6"/>
<rect x="-1.4" y="-4.2" width="3.2" height="8.4" fill="#6a6a6a"/>
<rect x="-3.4" y="-4.2" width="1.4" height="8.4" fill="#aaa"/>
</g>
<g transform="translate(386.10,480.40) rotate(180)">
<rect x="-4.6" y="-5.6" width="9.2" height="11.2" rx="0.8" fill="#d9d9d9" stroke="#777" stroke-width="0.6"/>
<rect x="-1.4" y="-4.2" width="3.2" height="8.4" fill="#6a6a6a"/>
<rect x="-3.4" y="-4.2" width="1.4" height="8.4" fill="#aaa"/>
</g>
<g transform="translate(355.20,530.51) rotate(0)">
<rect x="-4.6" y="-5.6" width="9.2" height="11.2" rx="0.8" fill="#d9d9d9" stroke="#777" stroke-width="0.6"/>
<rect x="-1.4" y="-4.2" width="3.2" height="8.4" fill="#6a6a6a"/>
<rect x="-3.4" y="-4.2" width="1.4" height="8.4" fill="#aaa"/>
</g>
<g transform="translate(384.80,530.51) rotate(180)">
<rect x="-4.6" y="-5.6" width="9.2" height="11.2" rx="0.8" fill="#d9d9d9" stroke="#777" stroke-width="0.6"/>
<rect x="-1.4" y="-4.2" width="3.2" height="8.4" fill="#6a6a6a"/>
<rect x="-3.4" y="-4.2" width="1.4" height="8.4" fill="#aaa"/>
</g>
<g transform="translate(505.40,486.44) rotate(0) translate(4.6,0) scale(0.93) translate(-4.6,0)">
<path d="M5.2,-9 L-3.4,-8.7 Q-11.2,0 -3.4,8.7 L5.2,9.2 Z" fill="#fff" stroke="#3a3a3a" stroke-width="0.9" stroke-linejoin="round"/>
<path d="M-1.4,-7.2 Q-5.2,0 -1.2,7.2" fill="none" stroke="#555" stroke-width="0.7"/>
<path d="M-3.8,-8.8 L1.5,-9.1" fill="none" stroke="#222" stroke-width="1.5" stroke-linecap="round"/>
<path d="M-3.2,8.6 L2.5,9.2" fill="none" stroke="#222" stroke-width="1.5" stroke-linecap="round"/>
<circle cx="-6.9" cy="3.4" r="1.0" fill="#333"/>
</g>
<g transform="translate(555.40,486.44) rotate(180) translate(4.6,0) scale(0.93) translate(-4.6,0)">
<path d="M5.2,-9 L-3.4,-8.7 Q-11.2,0 -3.4,8.7 L5.2,9.2 Z" fill="#fff" stroke="#3a3a3a" stroke-width="0.9" stroke-linejoin="round"/>
<path d="M-1.4,-7.2 Q-5.2,0 -1.2,7.2" fill="none" stroke="#555" stroke-width="0.7"/>
<path d="M-3.8,-8.8 L1.5,-9.1" fill="none" stroke="#222" stroke-width="1.5" stroke-linecap="round"/>
<path d="M-3.2,8.6 L2.5,9.2" fill="none" stroke="#222" stroke-width="1.5" stroke-linecap="round"/>
<circle cx="-6.9" cy="3.4" r="1.0" fill="#333"/>
</g>
<g transform="translate(504.90,536.26) rotate(0) translate(4.6,0) scale(0.93) translate(-4.6,0)">
<path d="M5.2,-9 L-3.4,-8.7 Q-11.2,0 -3.4,8.7 L5.2,9.2 Z" fill="#fff" stroke="#3a3a3a" stroke-width="0.9" stroke-linejoin="round"/>
<path d="M-1.4,-7.2 Q-5.2,0 -1.2,7.2" fill="none" stroke="#555" stroke-width="0.7"/>
<path d="M-3.8,-8.8 L1.5,-9.1" fill="none" stroke="#222" stroke-width="1.5" stroke-linecap="round"/>
<path d="M-3.2,8.6 L2.5,9.2" fill="none" stroke="#222" stroke-width="1.5" stroke-linecap="round"/>
<circle cx="-6.9" cy="3.4" r="1.0" fill="#333"/>
</g>
<g transform="translate(554.10,536.26) rotate(180) translate(4.6,0) scale(0.93) translate(-4.6,0)">
<path d="M5.2,-9 L-3.4,-8.7 Q-11.2,0 -3.4,8.7 L5.2,9.2 Z" fill="#fff" stroke="#3a3a3a" stroke-width="0.9" stroke-linejoin="round"/>
<path d="M-1.4,-7.2 Q-5.2,0 -1.2,7.2" fill="none" stroke="#555" stroke-width="0.7"/>
<path d="M-3.8,-8.8 L1.5,-9.1" fill="none" stroke="#222" stroke-width="1.5" stroke-linecap="round"/>
<path d="M-3.2,8.6 L2.5,9.2" fill="none" stroke="#222" stroke-width="1.5" stroke-linecap="round"/>
<circle cx="-6.9" cy="3.4" r="1.0" fill="#333"/>
</g>
<rect x="510.00" y="466.30" width="40.80" height="39.50" fill="#fff" stroke="#3a3a3a" stroke-width="0.9" />
<line x1="530.50" y1="466.30" x2="530.50" y2="505.80" stroke="#3a3a3a" stroke-width="0.8" />
<rect x="509.50" y="517.00" width="40.00" height="39.30" fill="#fff" stroke="#3a3a3a" stroke-width="0.9" />
<line x1="529.70" y1="517.00" x2="529.70" y2="556.30" stroke="#3a3a3a" stroke-width="0.8" />
<rect x="503.80" y="505.80" width="63.00" height="11.20" fill="#fff" stroke="#3a3a3a" stroke-width="0.9" />
<line x1="524.50" y1="505.80" x2="524.50" y2="517.00" stroke="#3a3a3a" stroke-width="0.8" />
<line x1="545.50" y1="505.80" x2="545.50" y2="517.00" stroke="#3a3a3a" stroke-width="0.8" />
<g transform="translate(515.20,486.44) rotate(0)">
<rect x="-4.6" y="-5.6" width="9.2" height="11.2" rx="0.8" fill="#d9d9d9" stroke="#777" stroke-width="0.6"/>
<rect x="-1.4" y="-4.2" width="3.2" height="8.4" fill="#6a6a6a"/>
<rect x="-3.4" y="-4.2" width="1.4" height="8.4" fill="#aaa"/>
</g>
<g transform="translate(545.60,486.44) rotate(180)">
<rect x="-4.6" y="-5.6" width="9.2" height="11.2" rx="0.8" fill="#d9d9d9" stroke="#777" stroke-width="0.6"/>
<rect x="-1.4" y="-4.2" width="3.2" height="8.4" fill="#6a6a6a"/>
<rect x="-3.4" y="-4.2" width="1.4" height="8.4" fill="#aaa"/>
</g>
<g transform="translate(514.70,536.26) rotate(0)">
<rect x="-4.6" y="-5.6" width="9.2" height="11.2" rx="0.8" fill="#d9d9d9" stroke="#777" stroke-width="0.6"/>
<rect x="-1.4" y="-4.2" width="3.2" height="8.4" fill="#6a6a6a"/>
<rect x="-3.4" y="-4.2" width="1.4" height="8.4" fill="#aaa"/>
</g>
<g transform="translate(544.30,536.26) rotate(180)">
<rect x="-4.6" y="-5.6" width="9.2" height="11.2" rx="0.8" fill="#d9d9d9" stroke="#777" stroke-width="0.6"/>
<rect x="-1.4" y="-4.2" width="3.2" height="8.4" fill="#6a6a6a"/>
<rect x="-3.4" y="-4.2" width="1.4" height="8.4" fill="#aaa"/>
</g>
<g transform="translate(657.90,486.70) rotate(0) translate(4.6,0) scale(0.93) translate(-4.6,0)">
<path d="M5.2,-9 L-3.4,-8.7 Q-11.2,0 -3.4,8.7 L5.2,9.2 Z" fill="#fff" stroke="#3a3a3a" stroke-width="0.9" stroke-linejoin="round"/>
<path d="M-1.4,-7.2 Q-5.2,0 -1.2,7.2" fill="none" stroke="#555" stroke-width="0.7"/>
<path d="M-3.8,-8.8 L1.5,-9.1" fill="none" stroke="#222" stroke-width="1.5" stroke-linecap="round"/>
<path d="M-3.2,8.6 L2.5,9.2" fill="none" stroke="#222" stroke-width="1.5" stroke-linecap="round"/>
<circle cx="-6.9" cy="3.4" r="1.0" fill="#333"/>
</g>
<g transform="translate(707.60,486.70) rotate(180) translate(4.6,0) scale(0.93) translate(-4.6,0)">
<path d="M5.2,-9 L-3.4,-8.7 Q-11.2,0 -3.4,8.7 L5.2,9.2 Z" fill="#fff" stroke="#3a3a3a" stroke-width="0.9" stroke-linejoin="round"/>
<path d="M-1.4,-7.2 Q-5.2,0 -1.2,7.2" fill="none" stroke="#555" stroke-width="0.7"/>
<path d="M-3.8,-8.8 L1.5,-9.1" fill="none" stroke="#222" stroke-width="1.5" stroke-linecap="round"/>
<path d="M-3.2,8.6 L2.5,9.2" fill="none" stroke="#222" stroke-width="1.5" stroke-linecap="round"/>
<circle cx="-6.9" cy="3.4" r="1.0" fill="#333"/>
</g>
<g transform="translate(657.40,536.76) rotate(0) translate(4.6,0) scale(0.93) translate(-4.6,0)">
<path d="M5.2,-9 L-3.4,-8.7 Q-11.2,0 -3.4,8.7 L5.2,9.2 Z" fill="#fff" stroke="#3a3a3a" stroke-width="0.9" stroke-linejoin="round"/>
<path d="M-1.4,-7.2 Q-5.2,0 -1.2,7.2" fill="none" stroke="#555" stroke-width="0.7"/>
<path d="M-3.8,-8.8 L1.5,-9.1" fill="none" stroke="#222" stroke-width="1.5" stroke-linecap="round"/>
<path d="M-3.2,8.6 L2.5,9.2" fill="none" stroke="#222" stroke-width="1.5" stroke-linecap="round"/>
<circle cx="-6.9" cy="3.4" r="1.0" fill="#333"/>
</g>
<g transform="translate(706.60,536.76) rotate(180) translate(4.6,0) scale(0.93) translate(-4.6,0)">
<path d="M5.2,-9 L-3.4,-8.7 Q-11.2,0 -3.4,8.7 L5.2,9.2 Z" fill="#fff" stroke="#3a3a3a" stroke-width="0.9" stroke-linejoin="round"/>
<path d="M-1.4,-7.2 Q-5.2,0 -1.2,7.2" fill="none" stroke="#555" stroke-width="0.7"/>
<path d="M-3.8,-8.8 L1.5,-9.1" fill="none" stroke="#222" stroke-width="1.5" stroke-linecap="round"/>
<path d="M-3.2,8.6 L2.5,9.2" fill="none" stroke="#222" stroke-width="1.5" stroke-linecap="round"/>
<circle cx="-6.9" cy="3.4" r="1.0" fill="#333"/>
</g>
<rect x="662.50" y="466.30" width="40.50" height="40.00" fill="#fff" stroke="#3a3a3a" stroke-width="0.9" />
<line x1="682.70" y1="466.30" x2="682.70" y2="506.30" stroke="#3a3a3a" stroke-width="0.8" />
<rect x="662.00" y="517.50" width="40.00" height="39.30" fill="#fff" stroke="#3a3a3a" stroke-width="0.9" />
<line x1="682.00" y1="517.50" x2="682.00" y2="556.80" stroke="#3a3a3a" stroke-width="0.8" />
<rect x="656.30" y="506.30" width="62.50" height="11.20" fill="#fff" stroke="#3a3a3a" stroke-width="0.9" />
<line x1="677.00" y1="506.30" x2="677.00" y2="517.50" stroke="#3a3a3a" stroke-width="0.8" />
<line x1="698.00" y1="506.30" x2="698.00" y2="517.50" stroke="#3a3a3a" stroke-width="0.8" />
<g transform="translate(667.70,486.70) rotate(0)">
<rect x="-4.6" y="-5.6" width="9.2" height="11.2" rx="0.8" fill="#d9d9d9" stroke="#777" stroke-width="0.6"/>
<rect x="-1.4" y="-4.2" width="3.2" height="8.4" fill="#6a6a6a"/>
<rect x="-3.4" y="-4.2" width="1.4" height="8.4" fill="#aaa"/>
</g>
<g transform="translate(697.80,486.70) rotate(180)">
<rect x="-4.6" y="-5.6" width="9.2" height="11.2" rx="0.8" fill="#d9d9d9" stroke="#777" stroke-width="0.6"/>
<rect x="-1.4" y="-4.2" width="3.2" height="8.4" fill="#6a6a6a"/>
<rect x="-3.4" y="-4.2" width="1.4" height="8.4" fill="#aaa"/>
</g>
<g transform="translate(667.20,536.76) rotate(0)">
<rect x="-4.6" y="-5.6" width="9.2" height="11.2" rx="0.8" fill="#d9d9d9" stroke="#777" stroke-width="0.6"/>
<rect x="-1.4" y="-4.2" width="3.2" height="8.4" fill="#6a6a6a"/>
<rect x="-3.4" y="-4.2" width="1.4" height="8.4" fill="#aaa"/>
</g>
<g transform="translate(696.80,536.76) rotate(180)">
<rect x="-4.6" y="-5.6" width="9.2" height="11.2" rx="0.8" fill="#d9d9d9" stroke="#777" stroke-width="0.6"/>
<rect x="-1.4" y="-4.2" width="3.2" height="8.4" fill="#6a6a6a"/>
<rect x="-3.4" y="-4.2" width="1.4" height="8.4" fill="#aaa"/>
</g>
<g transform="translate(815.40,487.54) rotate(0) translate(4.6,0) scale(0.93) translate(-4.6,0)">
<path d="M5.2,-9 L-3.4,-8.7 Q-11.2,0 -3.4,8.7 L5.2,9.2 Z" fill="#fff" stroke="#3a3a3a" stroke-width="0.9" stroke-linejoin="round"/>
<path d="M-1.4,-7.2 Q-5.2,0 -1.2,7.2" fill="none" stroke="#555" stroke-width="0.7"/>
<path d="M-3.8,-8.8 L1.5,-9.1" fill="none" stroke="#222" stroke-width="1.5" stroke-linecap="round"/>
<path d="M-3.2,8.6 L2.5,9.2" fill="none" stroke="#222" stroke-width="1.5" stroke-linecap="round"/>
<circle cx="-6.9" cy="3.4" r="1.0" fill="#333"/>
</g>
<g transform="translate(865.10,487.54) rotate(180) translate(4.6,0) scale(0.93) translate(-4.6,0)">
<path d="M5.2,-9 L-3.4,-8.7 Q-11.2,0 -3.4,8.7 L5.2,9.2 Z" fill="#fff" stroke="#3a3a3a" stroke-width="0.9" stroke-linejoin="round"/>
<path d="M-1.4,-7.2 Q-5.2,0 -1.2,7.2" fill="none" stroke="#555" stroke-width="0.7"/>
<path d="M-3.8,-8.8 L1.5,-9.1" fill="none" stroke="#222" stroke-width="1.5" stroke-linecap="round"/>
<path d="M-3.2,8.6 L2.5,9.2" fill="none" stroke="#222" stroke-width="1.5" stroke-linecap="round"/>
<circle cx="-6.9" cy="3.4" r="1.0" fill="#333"/>
</g>
<g transform="translate(814.70,537.51) rotate(0) translate(4.6,0) scale(0.93) translate(-4.6,0)">
<path d="M5.2,-9 L-3.4,-8.7 Q-11.2,0 -3.4,8.7 L5.2,9.2 Z" fill="#fff" stroke="#3a3a3a" stroke-width="0.9" stroke-linejoin="round"/>
<path d="M-1.4,-7.2 Q-5.2,0 -1.2,7.2" fill="none" stroke="#555" stroke-width="0.7"/>
<path d="M-3.8,-8.8 L1.5,-9.1" fill="none" stroke="#222" stroke-width="1.5" stroke-linecap="round"/>
<path d="M-3.2,8.6 L2.5,9.2" fill="none" stroke="#222" stroke-width="1.5" stroke-linecap="round"/>
<circle cx="-6.9" cy="3.4" r="1.0" fill="#333"/>
</g>
<g transform="translate(864.10,537.51) rotate(180) translate(4.6,0) scale(0.93) translate(-4.6,0)">
<path d="M5.2,-9 L-3.4,-8.7 Q-11.2,0 -3.4,8.7 L5.2,9.2 Z" fill="#fff" stroke="#3a3a3a" stroke-width="0.9" stroke-linejoin="round"/>
<path d="M-1.4,-7.2 Q-5.2,0 -1.2,7.2" fill="none" stroke="#555" stroke-width="0.7"/>
<path d="M-3.8,-8.8 L1.5,-9.1" fill="none" stroke="#222" stroke-width="1.5" stroke-linecap="round"/>
<path d="M-3.2,8.6 L2.5,9.2" fill="none" stroke="#222" stroke-width="1.5" stroke-linecap="round"/>
<circle cx="-6.9" cy="3.4" r="1.0" fill="#333"/>
</g>
<rect x="820.00" y="467.50" width="40.50" height="39.30" fill="#fff" stroke="#3a3a3a" stroke-width="0.9" />
<line x1="840.00" y1="467.50" x2="840.00" y2="506.80" stroke="#3a3a3a" stroke-width="0.8" />
<rect x="819.30" y="518.30" width="40.20" height="39.20" fill="#fff" stroke="#3a3a3a" stroke-width="0.9" />
<line x1="839.30" y1="518.30" x2="839.30" y2="557.50" stroke="#3a3a3a" stroke-width="0.8" />
<rect x="813.30" y="506.80" width="63.00" height="11.50" fill="#fff" stroke="#3a3a3a" stroke-width="0.9" />
<line x1="834.00" y1="506.80" x2="834.00" y2="518.30" stroke="#3a3a3a" stroke-width="0.8" />
<line x1="855.00" y1="506.80" x2="855.00" y2="518.30" stroke="#3a3a3a" stroke-width="0.8" />
<g transform="translate(825.20,487.54) rotate(0)">
<rect x="-4.6" y="-5.6" width="9.2" height="11.2" rx="0.8" fill="#d9d9d9" stroke="#777" stroke-width="0.6"/>
<rect x="-1.4" y="-4.2" width="3.2" height="8.4" fill="#6a6a6a"/>
<rect x="-3.4" y="-4.2" width="1.4" height="8.4" fill="#aaa"/>
</g>
<g transform="translate(855.30,487.54) rotate(180)">
<rect x="-4.6" y="-5.6" width="9.2" height="11.2" rx="0.8" fill="#d9d9d9" stroke="#777" stroke-width="0.6"/>
<rect x="-1.4" y="-4.2" width="3.2" height="8.4" fill="#6a6a6a"/>
<rect x="-3.4" y="-4.2" width="1.4" height="8.4" fill="#aaa"/>
</g>
<g transform="translate(824.50,537.51) rotate(0)">
<rect x="-4.6" y="-5.6" width="9.2" height="11.2" rx="0.8" fill="#d9d9d9" stroke="#777" stroke-width="0.6"/>
<rect x="-1.4" y="-4.2" width="3.2" height="8.4" fill="#6a6a6a"/>
<rect x="-3.4" y="-4.2" width="1.4" height="8.4" fill="#aaa"/>
</g>
<g transform="translate(854.30,537.51) rotate(180)">
<rect x="-4.6" y="-5.6" width="9.2" height="11.2" rx="0.8" fill="#d9d9d9" stroke="#777" stroke-width="0.6"/>
<rect x="-1.4" y="-4.2" width="3.2" height="8.4" fill="#6a6a6a"/>
<rect x="-3.4" y="-4.2" width="1.4" height="8.4" fill="#aaa"/>
</g>
<rect x="445.00" y="458.00" width="22.50" height="83.80" fill="#fff" stroke="#3a3a3a" stroke-width="0.9" />
<line x1="456.30" y1="458.00" x2="456.30" y2="541.80" stroke="#3a3a3a" stroke-width="0.8" />
<line x1="445.00" y1="478.30" x2="467.50" y2="478.30" stroke="#3a3a3a" stroke-width="0.8" />
<line x1="445.00" y1="499.50" x2="467.50" y2="499.50" stroke="#3a3a3a" stroke-width="0.8" />
<line x1="445.00" y1="520.50" x2="467.50" y2="520.50" stroke="#3a3a3a" stroke-width="0.8" />
<rect x="599.30" y="459.30" width="22.00" height="83.70" fill="#fff" stroke="#3a3a3a" stroke-width="0.9" />
<line x1="610.50" y1="459.30" x2="610.50" y2="543.00" stroke="#3a3a3a" stroke-width="0.8" />
<line x1="599.30" y1="480.30" x2="621.30" y2="480.30" stroke="#3a3a3a" stroke-width="0.8" />
<line x1="599.30" y1="501.30" x2="621.30" y2="501.30" stroke="#3a3a3a" stroke-width="0.8" />
<line x1="599.30" y1="522.00" x2="621.30" y2="522.00" stroke="#3a3a3a" stroke-width="0.8" />
<rect x="753.00" y="460.50" width="21.50" height="83.30" fill="#fff" stroke="#3a3a3a" stroke-width="0.9" />
<line x1="764.30" y1="460.50" x2="764.30" y2="543.80" stroke="#3a3a3a" stroke-width="0.8" />
<line x1="753.00" y1="481.30" x2="774.50" y2="481.30" stroke="#3a3a3a" stroke-width="0.8" />
<line x1="753.00" y1="502.30" x2="774.50" y2="502.30" stroke="#3a3a3a" stroke-width="0.8" />
<line x1="753.00" y1="523.00" x2="774.50" y2="523.00" stroke="#3a3a3a" stroke-width="0.8" />
<rect x="918.10" y="440.40" width="80.90" height="2.40" fill="#b5b3a8" />
<rect x="918.10" y="440.40" width="2.30" height="146.00" fill="#b5b3a8" />
<rect x="920.00" y="440.50" width="4.90" height="2.30" fill="#111" />
<rect x="918.10" y="582.00" width="2.30" height="5.00" fill="#222" />
<rect x="918.10" y="553.00" width="2.30" height="3.00" fill="#333" />
<path d="M920.40,460.40 L936.90,460.40 A16.5,16.5 0 0 1 920.40,476.90" fill="none" stroke="#9a9468" stroke-width="0.8" />
<rect x="906.60" y="482.40" width="11.60" height="59.50" fill="#fff" stroke="#3a3a3a" stroke-width="0.9" />
<line x1="906.60" y1="502.60" x2="918.20" y2="502.60" stroke="#3a3a3a" stroke-width="0.8" />
<line x1="906.60" y1="521.70" x2="918.20" y2="521.70" stroke="#3a3a3a" stroke-width="0.8" />
<rect x="982.10" y="456.60" width="13.80" height="11.30" fill="#fff" stroke="#86867c" stroke-width="0.8" />
<path d="M993.70,457.20 Q995.50,462.25 993.70,467.30" fill="none" stroke="#c4c4c4" stroke-width="0.6" />
<rect x="982.10" y="485.50" width="13.80" height="11.30" fill="#fff" stroke="#86867c" stroke-width="0.8" />
<path d="M993.70,486.10 Q995.50,491.15 993.70,496.20" fill="none" stroke="#c4c4c4" stroke-width="0.6" />
<circle cx="990.10" cy="476.50" r="8.3" fill="#fff" stroke="#86867c" stroke-width="0.8"/>
<rect x="987.80" y="504.40" width="11.20" height="59.20" fill="#fff" stroke="#3a3a3a" stroke-width="0.9" />
<line x1="987.80" y1="524.30" x2="999.00" y2="524.30" stroke="#3a3a3a" stroke-width="0.8" />
<line x1="987.80" y1="543.20" x2="999.00" y2="543.20" stroke="#3a3a3a" stroke-width="0.8" />
<rect x="923.60" y="507.80" width="20.20" height="10.50" fill="#fff" stroke="#3a3a3a" stroke-width="0.9" />
<g transform="translate(945.50,541.50) rotate(180) translate(4.6,0) scale(0.93) translate(-4.6,0)">
<path d="M5.2,-9 L-3.4,-8.7 Q-11.2,0 -3.4,8.7 L5.2,9.2 Z" fill="#fff" stroke="#3a3a3a" stroke-width="0.9" stroke-linejoin="round"/>
<path d="M-1.4,-7.2 Q-5.2,0 -1.2,7.2" fill="none" stroke="#555" stroke-width="0.7"/>
<path d="M-3.8,-8.8 L1.5,-9.1" fill="none" stroke="#222" stroke-width="1.5" stroke-linecap="round"/>
<path d="M-3.2,8.6 L2.5,9.2" fill="none" stroke="#222" stroke-width="1.5" stroke-linecap="round"/>
<circle cx="-6.9" cy="3.4" r="1.0" fill="#333"/>
</g>
<rect x="920.40" y="521.70" width="20.20" height="38.50" fill="#fff" stroke="#3a3a3a" stroke-width="0.9" />
<g transform="translate(935.20,541.50) rotate(180)">
<rect x="-4.6" y="-5.6" width="9.2" height="11.2" rx="0.8" fill="#d9d9d9" stroke="#777" stroke-width="0.6"/>
<rect x="-1.4" y="-4.2" width="3.2" height="8.4" fill="#6a6a6a"/>
<rect x="-3.4" y="-4.2" width="1.4" height="8.4" fill="#aaa"/>
</g>
<rect x="759.3" y="563.4" width="185.7" height="69.4" rx="10.5" fill="none" stroke="#8ecb55" stroke-opacity="0.88" stroke-width="4.7"/>
<text x="770.70 798.80 831.05 860.86 886.05 909.30" y="609.7" font-size="43" font-family="DejaVu Sans, sans-serif" fill="#8ecb55" stroke="#8ecb55" stroke-width="0.5" opacity="0.9">gepard</text>
<text x="761.00" y="655.10" font-size="12.4" font-weight="normal" fill="#8b8b8b" textLength="181.20" lengthAdjust="spacingAndGlyphs" >REALITNÍ SPECIALISTA</text>
<text x="72.00" y="237.30" font-size="9.0" font-weight="bold" fill="#000" textLength="73.00" lengthAdjust="spacingAndGlyphs"  stroke="#000" stroke-width="0.32">Jednací místnost</text>
<text x="92.50" y="246.90" font-size="9.0" font-weight="bold" fill="#000" textLength="32.50" lengthAdjust="spacingAndGlyphs"  stroke="#000" stroke-width="0.32">16,8 m2</text>
<text x="149.50" y="237.30" font-size="9.0" font-weight="bold" fill="#000" textLength="72.50" lengthAdjust="spacingAndGlyphs"  stroke="#000" stroke-width="0.32">Jednací místnost</text>
<text x="170.00" y="246.90" font-size="9.0" font-weight="bold" fill="#000" textLength="32.50" lengthAdjust="spacingAndGlyphs"  stroke="#000" stroke-width="0.32">16,8 m2</text>
<text x="250.80" y="219.80" font-size="9.0" font-weight="bold" fill="#000" textLength="37.80" lengthAdjust="spacingAndGlyphs"  stroke="#000" stroke-width="0.32">Kancelář</text>
<text x="253.20" y="230.10" font-size="9.0" font-weight="bold" fill="#000" textLength="32.50" lengthAdjust="spacingAndGlyphs"  stroke="#000" stroke-width="0.32">16,8 m2</text>
<text x="556.50" y="149.60" font-size="9.4" font-weight="bold" fill="#000" textLength="88.50" lengthAdjust="spacingAndGlyphs"  stroke="#000" stroke-width="0.32">Kancelářská plocha</text>
<text x="581.30" y="160.30" font-size="9.4" font-weight="bold" fill="#000" textLength="39.50" lengthAdjust="spacingAndGlyphs"  stroke="#000" stroke-width="0.32">154,4 m2</text>
<text x="936.00" y="218.30" font-size="9.0" font-weight="bold" fill="#000" textLength="39.00" lengthAdjust="spacingAndGlyphs"  stroke="#000" stroke-width="0.32">Kancelář</text>
<text x="939.00" y="227.90" font-size="9.0" font-weight="bold" fill="#000" textLength="32.00" lengthAdjust="spacingAndGlyphs"  stroke="#000" stroke-width="0.32">16,8 m2</text>
<text x="37.00" y="288.70" font-size="8.2" font-weight="normal" fill="#222" textLength="20.20" lengthAdjust="spacingAndGlyphs" >Výtah</text>
<text x="80.50" y="332.10" font-size="9.2" font-weight="bold" fill="#000" textLength="42.50" lengthAdjust="spacingAndGlyphs"  stroke="#000" stroke-width="0.32">Schodiště</text>
<text x="85.50" y="342.30" font-size="9.2" font-weight="bold" fill="#000" textLength="32.80" lengthAdjust="spacingAndGlyphs"  stroke="#000" stroke-width="0.32">19,2 m2</text>
<text x="254.50" y="332.30" font-size="9.4" font-weight="bold" fill="#000" textLength="34.50" lengthAdjust="spacingAndGlyphs"  stroke="#000" stroke-width="0.32">Patrový</text>
<text x="247.50" y="342.80" font-size="9.4" font-weight="bold" fill="#000" textLength="48.00" lengthAdjust="spacingAndGlyphs"  stroke="#000" stroke-width="0.32">sekretariát</text>
<text x="254.50" y="353.60" font-size="9.4" font-weight="bold" fill="#000" textLength="35.00" lengthAdjust="spacingAndGlyphs"  stroke="#000" stroke-width="0.32">21,6 m2</text>
<text x="407.10" y="322.00" font-size="9.2" font-weight="bold" fill="#000" textLength="30.00" lengthAdjust="spacingAndGlyphs"  stroke="#000" stroke-width="0.32">Čajová</text>
<text x="401.00" y="332.10" font-size="9.2" font-weight="bold" fill="#000" textLength="42.00" lengthAdjust="spacingAndGlyphs"  stroke="#000" stroke-width="0.32">kuchyňka</text>
<text x="407.50" y="342.30" font-size="9.2" font-weight="bold" fill="#000" textLength="29.00" lengthAdjust="spacingAndGlyphs"  stroke="#000" stroke-width="0.32">5,6 m2</text>
<text x="409.50" y="372.30" font-size="9.2" font-weight="bold" fill="#000" textLength="21.80" lengthAdjust="spacingAndGlyphs"  stroke="#000" stroke-width="0.32">Copy</text>
<text x="407.00" y="382.10" font-size="9.2" font-weight="bold" fill="#000" textLength="27.50" lengthAdjust="spacingAndGlyphs"  stroke="#000" stroke-width="0.32">5,6 m2</text>
<text x="490.00" y="348.60" font-size="9.4" font-weight="bold" fill="#000" textLength="83.30" lengthAdjust="spacingAndGlyphs"  stroke="#000" stroke-width="0.32">Zasedací místnost</text>
<text x="514.00" y="359.60" font-size="9.4" font-weight="bold" fill="#000" textLength="35.50" lengthAdjust="spacingAndGlyphs"  stroke="#000" stroke-width="0.32">21,6 m2</text>
<text x="615.50" y="325.80" font-size="9.2" font-weight="bold" fill="#000" textLength="63.30" lengthAdjust="spacingAndGlyphs"  stroke="#000" stroke-width="0.32">Tech. místnost</text>
<text x="632.50" y="335.80" font-size="9.2" font-weight="bold" fill="#000" textLength="28.50" lengthAdjust="spacingAndGlyphs"  stroke="#000" stroke-width="0.32">5,4 m2</text>
<text x="615.50" y="374.10" font-size="9.2" font-weight="bold" fill="#000" textLength="63.30" lengthAdjust="spacingAndGlyphs"  stroke="#000" stroke-width="0.32">Tech. místnost</text>
<text x="632.50" y="384.10" font-size="9.2" font-weight="bold" fill="#000" textLength="28.50" lengthAdjust="spacingAndGlyphs"  stroke="#000" stroke-width="0.32">5,4 m2</text>
<text x="581.80" y="280.30" font-size="9.2" font-weight="bold" fill="#000" textLength="32.00" lengthAdjust="spacingAndGlyphs"  stroke="#000" stroke-width="0.32">Chodba</text>
<text x="581.50" y="290.80" font-size="9.2" font-weight="bold" fill="#000" textLength="32.50" lengthAdjust="spacingAndGlyphs"  stroke="#000" stroke-width="0.32">54,2 m2</text>
<text x="592.00" y="426.60" font-size="9.2" font-weight="bold" fill="#000" textLength="33.00" lengthAdjust="spacingAndGlyphs"  stroke="#000" stroke-width="0.32">Chodba</text>
<text x="592.00" y="437.10" font-size="9.2" font-weight="bold" fill="#000" textLength="33.00" lengthAdjust="spacingAndGlyphs"  stroke="#000" stroke-width="0.32">54,2 m2</text>
<text x="724.30" y="354.10" font-size="9.2" font-weight="bold" fill="#000" textLength="27.50" lengthAdjust="spacingAndGlyphs"  stroke="#000" stroke-width="0.32">Archiv</text>
<text x="721.50" y="364.60" font-size="9.2" font-weight="bold" fill="#000" textLength="33.00" lengthAdjust="spacingAndGlyphs"  stroke="#000" stroke-width="0.32">10,8 m2</text>
<text x="775.00" y="354.10" font-size="9.2" font-weight="bold" fill="#000" textLength="28.00" lengthAdjust="spacingAndGlyphs"  stroke="#000" stroke-width="0.32">Archiv</text>
<text x="772.50" y="364.60" font-size="9.2" font-weight="bold" fill="#000" textLength="32.80" lengthAdjust="spacingAndGlyphs"  stroke="#000" stroke-width="0.32">10,8 m2</text>
<text x="923.30" y="400.30" font-size="9.2" font-weight="bold" fill="#000" textLength="37.50" lengthAdjust="spacingAndGlyphs"  stroke="#000" stroke-width="0.32">Dočasné</text>
<text x="919.50" y="410.30" font-size="9.2" font-weight="bold" fill="#000" textLength="46.00" lengthAdjust="spacingAndGlyphs"  stroke="#000" stroke-width="0.32">pracoviště</text>
<text x="926.50" y="420.30" font-size="9.2" font-weight="bold" fill="#000" textLength="32.00" lengthAdjust="spacingAndGlyphs"  stroke="#000" stroke-width="0.32">21,6 m2</text>
<text x="109.30" y="469.50" font-size="9.0" font-weight="bold" fill="#000" textLength="32.10" lengthAdjust="spacingAndGlyphs"  stroke="#000" stroke-width="0.32">WC inv.</text>
<text x="111.70" y="479.50" font-size="9.0" font-weight="bold" fill="#000" textLength="27.90" lengthAdjust="spacingAndGlyphs"  stroke="#000" stroke-width="0.32">2,9 m2</text>
<text x="159.70" y="453.30" font-size="9.0" font-weight="bold" fill="#000" textLength="24.00" lengthAdjust="spacingAndGlyphs"  stroke="#000" stroke-width="0.32">Uklid.</text>
<text x="155.80" y="462.90" font-size="9.0" font-weight="bold" fill="#000" textLength="32.10" lengthAdjust="spacingAndGlyphs"  stroke="#000" stroke-width="0.32">komora</text>
<text x="158.40" y="472.80" font-size="9.0" font-weight="bold" fill="#000" textLength="26.30" lengthAdjust="spacingAndGlyphs"  stroke="#000" stroke-width="0.32">1,4 m2</text>
<text x="82.00" y="502.60" font-size="9.0" font-weight="bold" fill="#000" textLength="38.00" lengthAdjust="spacingAndGlyphs"  stroke="#000" stroke-width="0.32">WC muži</text>
<text x="85.50" y="512.30" font-size="9.0" font-weight="bold" fill="#000" textLength="31.80" lengthAdjust="spacingAndGlyphs"  stroke="#000" stroke-width="0.32">11,4 m2</text>
<text x="169.40" y="496.30" font-size="9.0" font-weight="bold" fill="#000" textLength="37.40" lengthAdjust="spacingAndGlyphs"  stroke="#000" stroke-width="0.32">WC ženy</text>
<text x="171.70" y="506.10" font-size="9.0" font-weight="bold" fill="#000" textLength="32.30" lengthAdjust="spacingAndGlyphs"  stroke="#000" stroke-width="0.32">10,8 m2</text>
<text x="248.00" y="491.10" font-size="9.0" font-weight="bold" fill="#000" textLength="38.30" lengthAdjust="spacingAndGlyphs"  stroke="#000" stroke-width="0.32">Kancelář</text>
<text x="250.50" y="501.60" font-size="9.0" font-weight="bold" fill="#000" textLength="32.80" lengthAdjust="spacingAndGlyphs"  stroke="#000" stroke-width="0.32">16,8 m2</text>
<text x="560.00" y="569.60" font-size="9.4" font-weight="bold" fill="#000" textLength="89.50" lengthAdjust="spacingAndGlyphs"  stroke="#000" stroke-width="0.32">Kancelářská plocha</text>
<text x="585.00" y="580.30" font-size="9.4" font-weight="bold" fill="#000" textLength="40.00" lengthAdjust="spacingAndGlyphs"  stroke="#000" stroke-width="0.32">154,4 m2</text>
<text x="936.70" y="487.50" font-size="9.0" font-weight="bold" fill="#000" textLength="37.90" lengthAdjust="spacingAndGlyphs"  stroke="#000" stroke-width="0.32">Kancelář</text>
<text x="939.10" y="497.50" font-size="9.0" font-weight="bold" fill="#000" textLength="32.90" lengthAdjust="spacingAndGlyphs"  stroke="#000" stroke-width="0.32">16,8 m2</text>
<circle cx="322.5" cy="50.8" r="1.25" fill="#1d1b6e"/>
</svg>
</body></html>
